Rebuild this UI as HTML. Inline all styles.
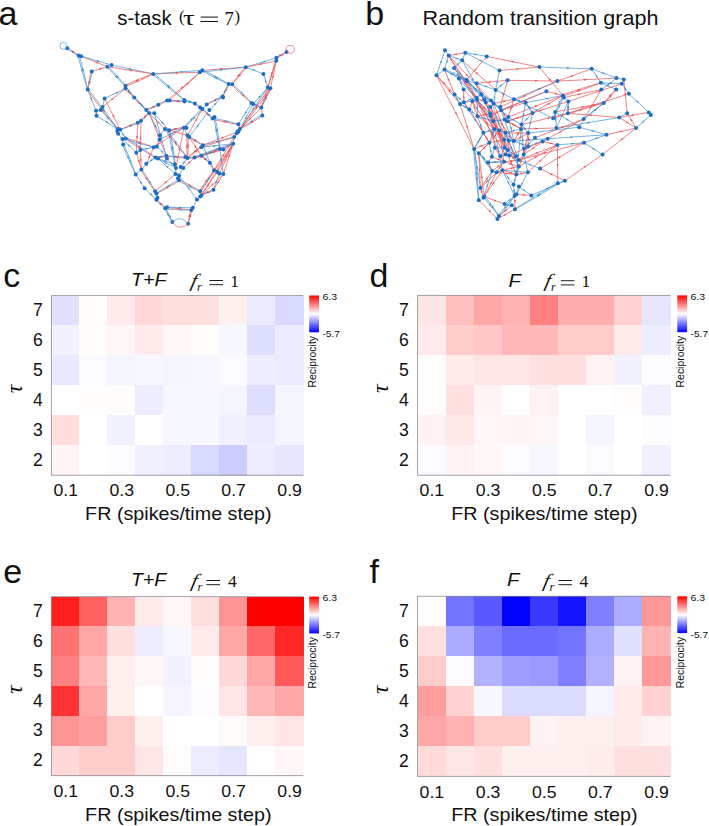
<!DOCTYPE html>
<html><head><meta charset="utf-8"><title>Figure</title>
<style>html,body{margin:0;padding:0;background:#fff}body{width:709px;height:826px;overflow:hidden}svg{display:block}text{fill:#111}</style>
</head><body>
<svg width="709" height="826" viewBox="0 0 709 826">
<rect width="709" height="826" fill="#fff"/>
<defs><linearGradient id="cb" x1="0" y1="0" x2="0" y2="1"><stop offset="0" stop-color="#ff0000"/><stop offset="0.5" stop-color="#ffffff"/><stop offset="1" stop-color="#0000ff"/></linearGradient></defs>
<g stroke-width="0.70" fill="none" stroke-linecap="round"><line x1="67.6" y1="47.8" x2="78.7" y2="55.4" stroke="#ee4d52"/><line x1="67.0" y1="48.8" x2="78.5" y2="55.6" stroke="#3f8fd0"/><line x1="81.1" y1="56.2" x2="107.5" y2="66.7" stroke="#ee4d52"/><line x1="81.1" y1="56.2" x2="111.6" y2="65.0" stroke="#3f8fd0"/><line x1="111.6" y1="65.0" x2="153.2" y2="73.9" stroke="#3f8fd0"/><line x1="107.5" y1="66.7" x2="153.2" y2="73.9" stroke="#ee4d52"/><line x1="153.2" y1="73.9" x2="199.9" y2="72.2" stroke="#ee4d52"/><line x1="153.2" y1="73.9" x2="202.3" y2="70.3" stroke="#3f8fd0"/><line x1="202.3" y1="70.3" x2="245.8" y2="67.2" stroke="#ee4d52"/><line x1="199.9" y1="72.2" x2="245.8" y2="67.2" stroke="#3f8fd0"/><line x1="245.8" y1="67.2" x2="276.5" y2="57.8" stroke="#3f8fd0"/><line x1="245.8" y1="67.2" x2="276.3" y2="60.8" stroke="#ee4d52"/><line x1="276.2" y1="57.3" x2="286.4" y2="51.8" stroke="#3f8fd0"/><line x1="276.8" y1="58.3" x2="286.6" y2="52.0" stroke="#ee4d52"/><path d="M79.2 55.3Q84.2 72.3 87.8 89.6" stroke="#3f8fd0"/><path d="M78.0 55.7Q82.1 72.8 87.6 89.6" stroke="#3f8fd0"/><line x1="91.7" y1="71.4" x2="107.5" y2="66.7" stroke="#ee4d52"/><line x1="92.3" y1="71.5" x2="87.8" y2="89.6" stroke="#3f8fd0"/><line x1="91.1" y1="71.3" x2="87.6" y2="89.6" stroke="#ee4d52"/><line x1="87.7" y1="89.6" x2="96.1" y2="110.7" stroke="#3f8fd0"/><path d="M88.2 89.2Q103.6 108.7 117.8 129.0" stroke="#3f8fd0"/><path d="M87.2 90.0Q101.8 110.0 117.6 129.2" stroke="#ee4d52"/><path d="M107.9 66.3Q117.3 75.5 125.6 85.7" stroke="#3f8fd0"/><path d="M107.1 67.1Q115.7 77.0 125.4 85.9" stroke="#3f8fd0"/><path d="M125.3 85.2Q138.9 78.9 153.2 73.8" stroke="#ee4d52"/><path d="M125.7 86.4Q139.8 80.8 153.2 74.0" stroke="#ee4d52"/><line x1="125.5" y1="88.5" x2="104.6" y2="98.5" stroke="#3f8fd0"/><line x1="125.5" y1="88.5" x2="102.5" y2="106.9" stroke="#ee4d52"/><line x1="104.6" y1="98.5" x2="102.5" y2="106.9" stroke="#3f8fd0"/><line x1="102.5" y1="106.9" x2="100.8" y2="110.1" stroke="#3f8fd0"/><line x1="100.8" y1="110.1" x2="96.1" y2="110.7" stroke="#3f8fd0"/><line x1="96.1" y1="110.7" x2="96.5" y2="115.8" stroke="#3f8fd0"/><line x1="100.8" y1="110.1" x2="117.7" y2="129.1" stroke="#3f8fd0"/><line x1="96.5" y1="115.8" x2="117.7" y2="129.1" stroke="#3f8fd0"/><line x1="104.6" y1="98.5" x2="120.2" y2="129.6" stroke="#ee4d52"/><line x1="125.9" y1="88.1" x2="134.3" y2="97.3" stroke="#3f8fd0"/><line x1="125.1" y1="88.9" x2="134.1" y2="97.5" stroke="#ee4d52"/><line x1="125.5" y1="85.8" x2="134.2" y2="97.4" stroke="#3f8fd0"/><line x1="134.6" y1="97.0" x2="146.4" y2="110.0" stroke="#3f8fd0"/><line x1="133.8" y1="97.8" x2="146.2" y2="110.2" stroke="#ee4d52"/><line x1="134.2" y1="97.4" x2="149.0" y2="112.9" stroke="#3f8fd0"/><line x1="146.1" y1="109.6" x2="158.3" y2="104.7" stroke="#3f8fd0"/><line x1="146.5" y1="110.6" x2="158.3" y2="104.9" stroke="#ee4d52"/><line x1="158.0" y1="104.3" x2="166.9" y2="100.5" stroke="#3f8fd0"/><line x1="158.6" y1="105.3" x2="167.1" y2="100.7" stroke="#ee4d52"/><line x1="149.0" y1="112.9" x2="154.3" y2="113.3" stroke="#3f8fd0"/><line x1="149.4" y1="113.3" x2="141.1" y2="120.8" stroke="#3f8fd0"/><line x1="148.6" y1="112.5" x2="140.9" y2="120.6" stroke="#ee4d52"/><line x1="141.0" y1="120.7" x2="137.8" y2="122.8" stroke="#3f8fd0"/><line x1="138.0" y1="123.4" x2="120.2" y2="129.7" stroke="#3f8fd0"/><line x1="137.6" y1="122.2" x2="120.2" y2="129.5" stroke="#ee4d52"/><line x1="141.0" y1="120.7" x2="140.3" y2="150.1" stroke="#ee4d52"/><line x1="137.8" y1="122.8" x2="136.3" y2="152.8" stroke="#ee4d52"/><line x1="149.0" y1="112.9" x2="164.9" y2="129.1" stroke="#ee4d52"/><line x1="154.3" y1="113.3" x2="169.1" y2="130.2" stroke="#3f8fd0"/><line x1="149.0" y1="112.9" x2="160.0" y2="135.3" stroke="#3f8fd0"/><line x1="164.9" y1="129.1" x2="160.0" y2="135.3" stroke="#3f8fd0"/><line x1="160.0" y1="135.3" x2="159.6" y2="139.5" stroke="#3f8fd0"/><line x1="160.2" y1="139.7" x2="156.9" y2="146.5" stroke="#3f8fd0"/><line x1="159.0" y1="139.3" x2="156.7" y2="146.5" stroke="#ee4d52"/><line x1="117.7" y1="129.1" x2="118.1" y2="133.8" stroke="#3f8fd0"/><line x1="118.1" y1="133.8" x2="122.4" y2="138.9" stroke="#3f8fd0"/><line x1="122.4" y1="138.9" x2="123.2" y2="144.4" stroke="#3f8fd0"/><line x1="120.2" y1="129.6" x2="125.7" y2="138.5" stroke="#3f8fd0"/><path d="M125.9 137.9Q140.0 141.9 153.7 147.2" stroke="#ee4d52"/><path d="M125.5 139.1Q139.4 143.9 153.7 147.4" stroke="#3f8fd0"/><path d="M153.6 73.4Q169.4 86.1 184.4 99.9" stroke="#3f8fd0"/><path d="M152.8 74.4Q168.1 87.8 184.2 100.1" stroke="#3f8fd0"/><line x1="199.9" y1="72.2" x2="167.0" y2="100.6" stroke="#ee4d52"/><line x1="202.3" y1="70.3" x2="169.5" y2="100.6" stroke="#ee4d52"/><line x1="169.5" y1="100.0" x2="184.5" y2="101.4" stroke="#3f8fd0"/><line x1="169.5" y1="101.2" x2="184.5" y2="101.6" stroke="#ee4d52"/><line x1="184.5" y1="99.4" x2="194.9" y2="103.4" stroke="#3f8fd0"/><line x1="184.1" y1="100.6" x2="194.9" y2="103.6" stroke="#3f8fd0"/><line x1="195.3" y1="103.0" x2="200.2" y2="107.5" stroke="#3f8fd0"/><line x1="194.5" y1="104.0" x2="200.0" y2="107.7" stroke="#ee4d52"/><line x1="202.7" y1="108.6" x2="212.7" y2="118.5" stroke="#3f8fd0"/><line x1="201.9" y1="109.4" x2="212.5" y2="118.7" stroke="#ee4d52"/><path d="M212.7 118.0Q225.7 120.4 238.4 124.2" stroke="#3f8fd0"/><path d="M212.5 119.2Q225.3 122.5 238.4 124.4" stroke="#ee4d52"/><path d="M215.1 117.0Q218.2 132.9 219.9 149.0" stroke="#3f8fd0"/><path d="M213.9 117.2Q216.1 133.2 219.7 149.0" stroke="#3f8fd0"/><path d="M202.6 69.8Q216.0 76.2 228.8 84.0" stroke="#3f8fd0"/><path d="M202.0 70.8Q215.0 78.2 228.6 84.2" stroke="#3f8fd0"/><line x1="246.3" y1="67.6" x2="232.2" y2="84.4" stroke="#ee4d52"/><line x1="245.3" y1="66.8" x2="232.0" y2="84.2" stroke="#ee4d52"/><line x1="229.2" y1="84.4" x2="222.7" y2="96.5" stroke="#ee4d52"/><line x1="228.2" y1="83.8" x2="222.5" y2="96.3" stroke="#3f8fd0"/><line x1="222.9" y1="96.9" x2="206.8" y2="104.5" stroke="#ee4d52"/><line x1="222.3" y1="95.9" x2="206.6" y2="104.3" stroke="#3f8fd0"/><line x1="206.7" y1="104.4" x2="202.3" y2="109.0" stroke="#3f8fd0"/><line x1="222.6" y1="96.4" x2="209.4" y2="110.1" stroke="#3f8fd0"/><path d="M232.5 83.9Q242.6 92.9 251.6 103.0" stroke="#3f8fd0"/><path d="M231.7 84.7Q241.0 94.5 251.4 103.2" stroke="#ee4d52"/><line x1="245.8" y1="67.2" x2="263.4" y2="73.9" stroke="#3f8fd0"/><line x1="263.4" y1="73.9" x2="267.8" y2="87.5" stroke="#3f8fd0"/><line x1="276.3" y1="60.8" x2="270.4" y2="88.3" stroke="#ee4d52"/><line x1="276.5" y1="57.8" x2="267.8" y2="87.5" stroke="#ee4d52"/><line x1="270.9" y1="88.6" x2="261.4" y2="107.7" stroke="#3f8fd0"/><line x1="269.9" y1="88.0" x2="261.2" y2="107.5" stroke="#ee4d52"/><line x1="267.8" y1="87.5" x2="253.2" y2="104.0" stroke="#3f8fd0"/><line x1="261.3" y1="107.6" x2="262.3" y2="115.4" stroke="#ee4d52"/><line x1="251.5" y1="103.1" x2="261.3" y2="107.6" stroke="#3f8fd0"/><path d="M262.6 115.9Q251.7 123.2 240.0 129.2" stroke="#ee4d52"/><path d="M262.0 114.9Q250.5 121.3 239.8 129.0" stroke="#3f8fd0"/><line x1="276.3" y1="60.8" x2="261.3" y2="107.6" stroke="#ee4d52"/><line x1="251.5" y1="103.1" x2="238.4" y2="124.3" stroke="#3f8fd0"/><line x1="253.2" y1="104.0" x2="239.9" y2="129.1" stroke="#3f8fd0"/><line x1="238.4" y1="124.3" x2="239.9" y2="129.1" stroke="#3f8fd0"/><line x1="238.4" y1="131.7" x2="234.2" y2="137.0" stroke="#3f8fd0"/><line x1="234.2" y1="137.0" x2="233.1" y2="143.8" stroke="#3f8fd0"/><line x1="261.3" y1="107.6" x2="237.8" y2="131.3" stroke="#ee4d52"/><path d="M202.7 109.4Q193.9 119.1 184.0 127.8" stroke="#3f8fd0"/><path d="M201.9 108.6Q192.3 117.6 183.8 127.6" stroke="#3f8fd0"/><line x1="209.4" y1="110.1" x2="189.2" y2="137.0" stroke="#3f8fd0"/><line x1="202.3" y1="109.0" x2="187.5" y2="135.3" stroke="#ee4d52"/><line x1="183.9" y1="127.7" x2="187.5" y2="135.3" stroke="#3f8fd0"/><line x1="187.5" y1="135.3" x2="189.2" y2="137.0" stroke="#3f8fd0"/><line x1="184.0" y1="128.3" x2="169.1" y2="130.3" stroke="#3f8fd0"/><line x1="183.8" y1="127.1" x2="169.1" y2="130.1" stroke="#ee4d52"/><line x1="164.9" y1="129.1" x2="187.5" y2="135.3" stroke="#ee4d52"/><line x1="159.6" y1="139.5" x2="183.9" y2="127.7" stroke="#3f8fd0"/><line x1="189.5" y1="136.5" x2="203.0" y2="145.1" stroke="#3f8fd0"/><line x1="188.9" y1="137.5" x2="202.8" y2="145.3" stroke="#ee4d52"/><line x1="234.2" y1="137.0" x2="202.9" y2="145.2" stroke="#3f8fd0"/><line x1="233.1" y1="143.8" x2="201.4" y2="147.3" stroke="#3f8fd0"/><line x1="234.2" y1="137.0" x2="201.4" y2="147.3" stroke="#ee4d52"/><line x1="233.1" y1="143.8" x2="223.4" y2="149.5" stroke="#3f8fd0"/><line x1="223.4" y1="149.5" x2="219.8" y2="149.0" stroke="#3f8fd0"/><line x1="220.0" y1="149.6" x2="201.4" y2="155.9" stroke="#3f8fd0"/><line x1="219.6" y1="148.4" x2="201.4" y2="155.7" stroke="#3f8fd0"/><line x1="223.4" y1="149.5" x2="201.4" y2="155.8" stroke="#ee4d52"/><line x1="201.5" y1="156.4" x2="194.5" y2="157.6" stroke="#3f8fd0"/><line x1="201.3" y1="155.2" x2="194.5" y2="157.4" stroke="#ee4d52"/><line x1="194.5" y1="158.1" x2="187.5" y2="158.0" stroke="#3f8fd0"/><line x1="194.5" y1="156.9" x2="187.5" y2="157.8" stroke="#ee4d52"/><line x1="187.4" y1="158.5" x2="166.4" y2="156.1" stroke="#ee4d52"/><line x1="187.6" y1="157.3" x2="166.4" y2="155.9" stroke="#3f8fd0"/><line x1="166.5" y1="156.6" x2="155.4" y2="157.6" stroke="#ee4d52"/><line x1="166.3" y1="155.4" x2="155.4" y2="157.4" stroke="#3f8fd0"/><line x1="201.8" y1="155.3" x2="210.0" y2="162.7" stroke="#3f8fd0"/><line x1="201.0" y1="156.3" x2="209.8" y2="162.9" stroke="#ee4d52"/><line x1="210.4" y1="162.5" x2="214.2" y2="170.1" stroke="#3f8fd0"/><line x1="209.4" y1="163.1" x2="214.0" y2="170.3" stroke="#ee4d52"/><line x1="214.1" y1="170.2" x2="217.3" y2="171.9" stroke="#3f8fd0"/><line x1="217.3" y1="171.9" x2="219.4" y2="173.4" stroke="#3f8fd0"/><line x1="219.4" y1="173.4" x2="223.4" y2="174.0" stroke="#3f8fd0"/><line x1="214.1" y1="170.2" x2="234.2" y2="137.0" stroke="#ee4d52"/><line x1="217.3" y1="171.9" x2="233.1" y2="143.8" stroke="#ee4d52"/><line x1="219.4" y1="173.4" x2="233.1" y2="143.8" stroke="#ee4d52"/><line x1="223.4" y1="174.0" x2="233.1" y2="143.8" stroke="#ee4d52"/><line x1="219.8" y1="149.0" x2="223.4" y2="174.0" stroke="#3f8fd0"/><line x1="213.5" y1="189.7" x2="219.4" y2="173.4" stroke="#3f8fd0"/><line x1="213.5" y1="189.7" x2="223.4" y2="174.0" stroke="#ee4d52"/><path d="M199.6 191.0Q206.2 180.2 214.0 170.1" stroke="#ee4d52"/><path d="M200.6 191.6Q208.0 181.3 214.2 170.3" stroke="#3f8fd0"/><line x1="201.4" y1="195.2" x2="217.3" y2="171.9" stroke="#ee4d52"/><line x1="200.1" y1="191.3" x2="233.1" y2="143.8" stroke="#ee4d52"/><line x1="203.3" y1="145.7" x2="187.6" y2="158.0" stroke="#ee4d52"/><line x1="202.5" y1="144.7" x2="187.4" y2="157.8" stroke="#ee4d52"/><path d="M188.1 135.3Q188.6 146.6 187.6 157.9" stroke="#ee4d52"/><path d="M186.9 135.3Q186.4 146.6 187.4 157.9" stroke="#ee4d52"/><line x1="183.9" y1="127.7" x2="175.9" y2="168.1" stroke="#ee4d52"/><path d="M169.7 130.1Q173.6 149.0 176.0 168.1" stroke="#3f8fd0"/><path d="M168.5 130.3Q171.4 149.3 175.8 168.1" stroke="#3f8fd0"/><line x1="156.8" y1="146.5" x2="166.4" y2="156.0" stroke="#3f8fd0"/><line x1="157.9" y1="158.6" x2="174.8" y2="164.3" stroke="#3f8fd0"/><line x1="155.4" y1="157.5" x2="175.9" y2="168.1" stroke="#3f8fd0"/><line x1="157.9" y1="158.6" x2="175.5" y2="174.0" stroke="#3f8fd0"/><line x1="167.0" y1="158.6" x2="175.9" y2="168.1" stroke="#3f8fd0"/><line x1="174.8" y1="164.3" x2="175.9" y2="168.1" stroke="#3f8fd0"/><line x1="175.9" y1="168.1" x2="175.5" y2="174.0" stroke="#3f8fd0"/><line x1="175.5" y1="174.0" x2="179.0" y2="175.5" stroke="#3f8fd0"/><line x1="179.0" y1="175.5" x2="179.0" y2="180.3" stroke="#3f8fd0"/><line x1="180.7" y1="167.0" x2="183.3" y2="168.1" stroke="#3f8fd0"/><line x1="183.3" y1="168.1" x2="179.0" y2="175.5" stroke="#3f8fd0"/><line x1="194.5" y1="157.5" x2="183.3" y2="168.1" stroke="#ee4d52"/><line x1="187.5" y1="157.9" x2="180.7" y2="167.0" stroke="#3f8fd0"/><path d="M179.3 180.8Q168.2 187.8 156.5 193.6" stroke="#ee4d52"/><path d="M178.7 179.8Q167.2 186.0 156.3 193.4" stroke="#3f8fd0"/><line x1="175.5" y1="174.0" x2="155.1" y2="191.3" stroke="#ee4d52"/><path d="M179.3 179.8Q190.0 184.8 200.2 191.2" stroke="#ee4d52"/><path d="M178.7 180.8Q189.1 186.8 200.0 191.4" stroke="#3f8fd0"/><line x1="179.0" y1="175.5" x2="197.0" y2="199.4" stroke="#3f8fd0"/><path d="M126.0 138.0Q141.1 147.1 155.5 157.4" stroke="#3f8fd0"/><path d="M125.4 139.0Q140.0 148.9 155.3 157.6" stroke="#ee4d52"/><path d="M123.8 144.2Q130.4 159.0 135.8 174.4" stroke="#3f8fd0"/><path d="M122.6 144.6Q128.5 159.8 135.6 174.4" stroke="#3f8fd0"/><line x1="122.4" y1="138.9" x2="136.3" y2="152.8" stroke="#3f8fd0"/><line x1="140.3" y1="150.1" x2="141.4" y2="169.6" stroke="#ee4d52"/><line x1="136.3" y1="152.8" x2="141.4" y2="169.6" stroke="#ee4d52"/><line x1="146.3" y1="163.8" x2="141.4" y2="169.6" stroke="#3f8fd0"/><line x1="141.4" y1="169.6" x2="135.7" y2="174.4" stroke="#3f8fd0"/><line x1="146.3" y1="163.8" x2="153.7" y2="147.3" stroke="#ee4d52"/><path d="M141.9 169.3Q149.2 179.9 155.2 191.2" stroke="#3f8fd0"/><path d="M140.9 169.9Q147.3 181.0 155.0 191.4" stroke="#ee4d52"/><line x1="135.7" y1="174.4" x2="144.6" y2="188.2" stroke="#3f8fd0"/><line x1="144.6" y1="188.2" x2="156.4" y2="199.8" stroke="#3f8fd0"/><line x1="155.1" y1="191.3" x2="157.5" y2="197.7" stroke="#3f8fd0"/><line x1="157.5" y1="197.7" x2="156.4" y2="199.8" stroke="#3f8fd0"/><line x1="156.8" y1="199.4" x2="165.4" y2="208.2" stroke="#ee4d52"/><line x1="156.0" y1="200.2" x2="165.2" y2="208.4" stroke="#3f8fd0"/><path d="M165.3 207.7Q178.4 208.1 191.3 209.9" stroke="#ee4d52"/><path d="M165.3 208.9Q178.2 210.2 191.3 210.1" stroke="#3f8fd0"/><line x1="167.0" y1="207.2" x2="192.8" y2="207.8" stroke="#3f8fd0"/><line x1="165.8" y1="208.0" x2="172.4" y2="221.9" stroke="#3f8fd0"/><line x1="164.8" y1="208.6" x2="172.2" y2="222.1" stroke="#3f8fd0"/><line x1="191.9" y1="210.1" x2="188.2" y2="223.7" stroke="#ee4d52"/><line x1="190.7" y1="209.9" x2="188.0" y2="223.7" stroke="#ee4d52"/><line x1="192.8" y1="207.8" x2="197.0" y2="199.4" stroke="#3f8fd0"/><line x1="197.0" y1="199.4" x2="200.3" y2="196.6" stroke="#3f8fd0"/><line x1="200.3" y1="196.6" x2="201.4" y2="195.2" stroke="#3f8fd0"/><line x1="201.4" y1="195.2" x2="200.1" y2="191.3" stroke="#3f8fd0"/><line x1="213.7" y1="190.2" x2="201.4" y2="195.3" stroke="#ee4d52"/><line x1="213.3" y1="189.2" x2="201.4" y2="195.1" stroke="#3f8fd0"/><line x1="200.3" y1="196.6" x2="223.4" y2="174.0" stroke="#ee4d52"/><line x1="201.4" y1="195.2" x2="233.1" y2="143.8" stroke="#ee4d52"/><line x1="155.4" y1="157.5" x2="146.3" y2="163.8" stroke="#3f8fd0"/><line x1="140.3" y1="150.1" x2="153.7" y2="147.3" stroke="#3f8fd0"/><line x1="136.3" y1="152.8" x2="140.3" y2="150.1" stroke="#3f8fd0"/><line x1="156.8" y1="146.5" x2="153.7" y2="147.3" stroke="#3f8fd0"/><line x1="149.0" y1="112.9" x2="166.4" y2="156.0" stroke="#ee4d52"/><line x1="154.3" y1="113.3" x2="166.4" y2="156.0" stroke="#3f8fd0"/><path d="M165.4 128.7Q177.0 142.8 187.6 157.8" stroke="#3f8fd0"/><path d="M164.4 129.5Q175.4 144.2 187.4 158.0" stroke="#ee4d52"/><line x1="189.2" y1="137.0" x2="201.4" y2="155.8" stroke="#ee4d52"/><path d="M194.3 156.9Q213.4 149.6 233.1 143.7" stroke="#3f8fd0"/><path d="M194.7 158.1Q214.2 151.7 233.1 143.9" stroke="#ee4d52"/><line x1="202.9" y1="145.2" x2="209.9" y2="162.8" stroke="#3f8fd0"/><line x1="153.7" y1="147.3" x2="183.9" y2="127.7" stroke="#ee4d52"/><line x1="238.4" y1="131.7" x2="202.9" y2="145.2" stroke="#ee4d52"/><line x1="169.1" y1="130.2" x2="164.9" y2="129.1" stroke="#3f8fd0"/><line x1="186.5" y1="128.1" x2="183.9" y2="127.7" stroke="#3f8fd0"/><line x1="267.8" y1="87.5" x2="239.9" y2="129.1" stroke="#3f8fd0"/><path d="M270.9 88.7Q255.3 110.6 238.5 131.8" stroke="#ee4d52"/><path d="M269.9 87.9Q253.5 109.4 238.3 131.6" stroke="#ee4d52"/></g><g><polygon points="74.8,52.7 71.7,51.7 72.8,50.2" fill="#ee4d52"/><polygon points="74.6,53.3 71.5,52.5 72.4,50.9" fill="#3f8fd0"/><polygon points="94.8,61.7 98.1,62.0 97.4,63.7" fill="#ee4d52"/><polygon points="100.2,61.7 97.0,61.7 97.5,60.0" fill="#3f8fd0"/><polygon points="132.0,69.4 128.8,69.6 129.2,67.8" fill="#3f8fd0"/><polygon points="128.7,70.0 132.0,69.6 131.7,71.4" fill="#ee4d52"/><polygon points="174.9,73.1 178.0,72.1 178.0,73.9" fill="#ee4d52"/><polygon points="179.3,72.0 182.3,70.9 182.5,72.7" fill="#3f8fd0"/><polygon points="219.0,69.1 222.0,68.0 222.1,69.8" fill="#ee4d52"/><polygon points="218.7,70.1 221.7,68.9 221.9,70.7" fill="#3f8fd0"/><polygon points="262.0,62.2 264.7,60.5 265.3,62.2" fill="#3f8fd0"/><polygon points="258.6,64.5 261.5,63.0 261.9,64.8" fill="#ee4d52"/><polygon points="282.0,54.2 279.7,56.4 278.9,54.8" fill="#3f8fd0"/><polygon points="280.1,56.2 282.3,53.7 283.3,55.2" fill="#ee4d52"/><polygon points="82.4,68.0 84.0,70.8 82.3,71.3" fill="#3f8fd0"/><polygon points="81.5,68.0 83.2,70.7 81.5,71.2" fill="#3f8fd0"/><polygon points="102.4,68.2 99.6,70.0 99.1,68.2" fill="#ee4d52"/><polygon points="89.2,84.0 89.1,80.8 90.8,81.2" fill="#3f8fd0"/><polygon points="89.4,80.0 89.7,83.3 87.9,82.9" fill="#ee4d52"/><polygon points="92.1,100.7 90.1,98.2 91.8,97.5" fill="#3f8fd0"/><polygon points="102.2,108.1 104.8,110.1 103.4,111.2" fill="#3f8fd0"/><polygon points="102.5,109.6 105.1,111.5 103.6,112.6" fill="#ee4d52"/><polygon points="115.9,75.0 118.7,76.7 117.3,78.0" fill="#3f8fd0"/><polygon points="117.9,78.2 115.0,76.6 116.3,75.3" fill="#3f8fd0"/><polygon points="135.2,81.2 137.7,79.1 138.4,80.8" fill="#ee4d52"/><polygon points="135.4,82.0 137.9,79.9 138.6,81.6" fill="#ee4d52"/><polygon points="118.8,91.7 116.4,93.9 115.6,92.2" fill="#3f8fd0"/><polygon points="113.9,97.8 112.1,100.4 110.9,99.0" fill="#ee4d52"/><polygon points="106.4,116.4 109.2,118.1 107.8,119.3" fill="#3f8fd0"/><polygon points="105.2,121.3 108.3,122.1 107.4,123.7" fill="#3f8fd0"/><polygon points="112.4,114.1 114.7,116.5 113.0,117.3" fill="#ee4d52"/><polygon points="128.7,91.2 131.5,92.9 130.1,94.1" fill="#3f8fd0"/><polygon points="130.2,93.8 127.3,92.3 128.5,91.0" fill="#ee4d52"/><polygon points="127.9,88.9 130.5,90.9 129.0,92.0" fill="#3f8fd0"/><polygon points="142.5,105.7 139.7,104.0 141.1,102.8" fill="#3f8fd0"/><polygon points="140.5,104.5 137.6,102.9 138.9,101.6" fill="#ee4d52"/><polygon points="143.7,107.4 140.9,105.7 142.2,104.5" fill="#3f8fd0"/><polygon points="151.5,107.4 154.1,105.4 154.7,107.1" fill="#3f8fd0"/><polygon points="151.8,108.1 154.2,105.9 155.0,107.5" fill="#ee4d52"/><polygon points="146.4,116.0 144.7,118.8 143.5,117.4" fill="#3f8fd0"/><polygon points="146.8,114.4 145.3,117.3 144.0,116.0" fill="#ee4d52"/><polygon points="132.7,125.3 130.1,127.2 129.4,125.5" fill="#3f8fd0"/><polygon points="128.6,126.0 131.1,123.9 131.8,125.6" fill="#ee4d52"/><polygon points="140.6,136.3 141.5,139.4 139.6,139.4" fill="#ee4d52"/><polygon points="137.0,139.1 136.2,136.0 138.0,136.1" fill="#ee4d52"/><polygon points="156.7,120.8 159.5,122.3 158.2,123.6" fill="#ee4d52"/><polygon points="164.0,124.4 161.3,122.7 162.7,121.5" fill="#3f8fd0"/><polygon points="156.3,127.9 154.2,125.5 155.8,124.7" fill="#3f8fd0"/><polygon points="122.1,132.7 124.5,134.8 123.0,135.8" fill="#3f8fd0"/><polygon points="141.7,143.2 138.5,143.1 139.1,141.3" fill="#ee4d52"/><polygon points="137.2,142.5 140.5,142.6 140.0,144.3" fill="#3f8fd0"/><polygon points="166.8,84.8 169.8,86.1 168.6,87.5" fill="#3f8fd0"/><polygon points="167.0,86.0 170.0,87.3 168.8,88.7" fill="#3f8fd0"/><polygon points="180.6,88.9 182.3,86.2 183.5,87.5" fill="#ee4d52"/><polygon points="185.8,85.5 187.5,82.8 188.7,84.1" fill="#ee4d52"/><polygon points="175.1,100.5 178.3,99.9 178.1,101.7" fill="#3f8fd0"/><polygon points="176.5,101.4 179.7,100.6 179.6,102.4" fill="#ee4d52"/><polygon points="191.7,102.1 188.4,101.9 189.1,100.2" fill="#3f8fd0"/><polygon points="191.6,102.7 188.3,102.7 188.8,101.0" fill="#3f8fd0"/><polygon points="207.2,113.1 210.1,114.6 208.8,115.9" fill="#3f8fd0"/><polygon points="205.8,112.9 208.8,114.2 207.6,115.6" fill="#ee4d52"/><polygon points="224.5,120.8 227.7,120.7 227.3,122.4" fill="#3f8fd0"/><polygon points="222.3,121.2 225.6,120.9 225.2,122.7" fill="#ee4d52"/><polygon points="217.4,132.1 216.0,129.1 217.8,128.8" fill="#3f8fd0"/><polygon points="215.9,128.3 217.4,131.2 215.6,131.5" fill="#3f8fd0"/><polygon points="217.1,77.7 213.9,77.0 214.8,75.4" fill="#3f8fd0"/><polygon points="214.6,77.1 217.8,77.7 217.0,79.4" fill="#3f8fd0"/><polygon points="238.5,76.8 239.8,73.8 241.2,75.0" fill="#ee4d52"/><polygon points="237.3,77.4 238.4,74.3 239.9,75.4" fill="#ee4d52"/><polygon points="225.2,91.8 225.9,88.6 227.5,89.5" fill="#ee4d52"/><polygon points="225.6,89.5 225.1,92.8 223.5,92.0" fill="#3f8fd0"/><polygon points="217.3,99.6 214.9,101.7 214.1,100.1" fill="#ee4d52"/><polygon points="213.7,100.5 216.0,98.2 216.9,99.8" fill="#3f8fd0"/><polygon points="216.6,102.6 215.1,105.5 213.8,104.2" fill="#3f8fd0"/><polygon points="243.1,94.5 240.3,93.0 241.6,91.7" fill="#3f8fd0"/><polygon points="241.7,94.1 244.6,95.6 243.4,96.9" fill="#ee4d52"/><polygon points="255.8,71.0 252.6,70.7 253.2,69.0" fill="#3f8fd0"/><polygon points="265.1,79.1 266.9,81.7 265.2,82.3" fill="#3f8fd0"/><polygon points="273.4,74.5 273.6,77.8 271.8,77.4" fill="#ee4d52"/><polygon points="271.4,75.4 271.4,72.1 273.1,72.6" fill="#ee4d52"/><polygon points="266.9,96.6 266.4,99.8 264.7,99.0" fill="#3f8fd0"/><polygon points="265.4,98.1 265.8,94.8 267.5,95.6" fill="#ee4d52"/><polygon points="260.9,95.3 259.5,98.3 258.1,97.1" fill="#3f8fd0"/><polygon points="254.0,104.3 257.2,104.7 256.5,106.4" fill="#3f8fd0"/><polygon points="250.7,122.9 252.9,120.6 253.8,122.1" fill="#ee4d52"/><polygon points="253.1,120.5 251.0,123.0 250.0,121.4" fill="#3f8fd0"/><polygon points="268.9,83.8 268.8,87.1 267.1,86.5" fill="#ee4d52"/><polygon points="244.5,114.4 245.4,111.3 246.9,112.3" fill="#3f8fd0"/><polygon points="246.8,116.0 246.2,119.2 244.6,118.3" fill="#3f8fd0"/><polygon points="248.6,120.4 250.2,117.6 251.4,118.8" fill="#ee4d52"/><polygon points="192.3,119.6 193.9,116.8 195.2,118.1" fill="#3f8fd0"/><polygon points="192.9,118.0 191.4,120.9 190.1,119.7" fill="#3f8fd0"/><polygon points="196.4,127.5 197.5,124.4 199.0,125.5" fill="#3f8fd0"/><polygon points="197.3,117.9 196.5,121.1 195.0,120.2" fill="#ee4d52"/><polygon points="173.3,129.7 176.3,128.4 176.5,130.2" fill="#3f8fd0"/><polygon points="177.5,128.4 174.6,129.9 174.2,128.1" fill="#ee4d52"/><polygon points="172.8,131.3 176.1,131.2 175.6,133.0" fill="#ee4d52"/><polygon points="169.9,134.5 172.4,132.3 173.2,133.9" fill="#3f8fd0"/><polygon points="197.4,141.5 194.3,140.6 195.3,139.1" fill="#3f8fd0"/><polygon points="196.3,141.7 193.2,140.9 194.0,139.3" fill="#ee4d52"/><polygon points="219.1,141.0 216.3,142.6 215.8,140.9" fill="#3f8fd0"/><polygon points="216.3,145.7 213.3,146.9 213.1,145.1" fill="#3f8fd0"/><polygon points="220.9,141.2 218.2,143.0 217.6,141.2" fill="#ee4d52"/><polygon points="230.7,145.2 228.4,147.6 227.5,146.0" fill="#3f8fd0"/><polygon points="212.8,152.0 210.2,153.9 209.6,152.2" fill="#3f8fd0"/><polygon points="207.8,153.1 210.4,151.1 211.0,152.8" fill="#3f8fd0"/><polygon points="211.5,152.9 214.2,151.2 214.7,152.9" fill="#ee4d52"/><polygon points="178.9,157.5 175.7,158.1 175.9,156.3" fill="#ee4d52"/><polygon points="173.2,156.3 176.4,155.6 176.3,157.5" fill="#3f8fd0"/><polygon points="162.5,157.0 159.5,158.2 159.3,156.3" fill="#ee4d52"/><polygon points="158.2,156.9 161.1,155.4 161.4,157.2" fill="#3f8fd0"/><polygon points="207.8,160.7 204.8,159.3 206.0,157.9" fill="#3f8fd0"/><polygon points="206.4,160.3 203.4,159.2 204.5,157.7" fill="#ee4d52"/><polygon points="221.9,157.3 222.7,154.2 224.3,155.1" fill="#ee4d52"/><polygon points="227.1,154.6 226.3,157.7 224.7,156.8" fill="#ee4d52"/><polygon points="224.6,162.1 225.1,158.9 226.7,159.7" fill="#ee4d52"/><polygon points="228.6,157.7 228.7,154.5 230.4,155.0" fill="#ee4d52"/><polygon points="221.1,157.8 222.4,160.8 220.6,161.0" fill="#3f8fd0"/><polygon points="216.8,180.5 216.6,183.7 214.9,183.1" fill="#3f8fd0"/><polygon points="219.5,180.2 218.6,183.3 217.1,182.3" fill="#ee4d52"/><polygon points="207.8,179.1 206.8,182.2 205.3,181.1" fill="#ee4d52"/><polygon points="207.7,180.4 208.6,177.3 210.2,178.3" fill="#3f8fd0"/><polygon points="209.2,183.7 208.2,186.8 206.7,185.8" fill="#ee4d52"/><polygon points="214.8,170.1 213.8,173.2 212.3,172.1" fill="#ee4d52"/><polygon points="198.0,149.8 196.1,152.4 195.0,151.0" fill="#ee4d52"/><polygon points="193.5,152.5 195.3,149.8 196.5,151.2" fill="#ee4d52"/><polygon points="187.8,147.7 187.0,144.5 188.8,144.6" fill="#ee4d52"/><polygon points="187.2,149.2 186.2,146.1 188.0,146.0" fill="#ee4d52"/><polygon points="180.0,147.2 180.3,150.4 178.5,150.0" fill="#ee4d52"/><polygon points="172.9,149.7 171.5,146.7 173.3,146.4" fill="#3f8fd0"/><polygon points="172.6,151.5 171.1,148.6 172.9,148.3" fill="#3f8fd0"/><polygon points="160.5,150.1 163.3,151.7 162.1,153.0" fill="#3f8fd0"/><polygon points="167.1,161.7 163.8,161.6 164.4,159.8" fill="#3f8fd0"/><polygon points="167.8,163.9 164.6,163.3 165.4,161.7" fill="#3f8fd0"/><polygon points="165.7,165.4 168.6,166.8 167.4,168.2" fill="#3f8fd0"/><polygon points="169.9,161.7 172.7,163.4 171.4,164.6" fill="#3f8fd0"/><polygon points="187.8,163.8 189.4,161.0 190.7,162.4" fill="#ee4d52"/><polygon points="182.7,164.3 183.8,161.3 185.3,162.4" fill="#3f8fd0"/><polygon points="165.3,188.6 167.6,186.3 168.5,187.9" fill="#ee4d52"/><polygon points="167.0,186.9 169.2,184.5 170.2,186.0" fill="#3f8fd0"/><polygon points="167.5,180.7 165.8,183.5 164.6,182.1" fill="#ee4d52"/><polygon points="191.1,186.2 187.9,185.5 188.8,183.9" fill="#ee4d52"/><polygon points="192.7,187.8 189.5,187.2 190.3,185.6" fill="#3f8fd0"/><polygon points="187.3,186.5 189.9,188.5 188.5,189.6" fill="#3f8fd0"/><polygon points="137.4,145.5 140.5,146.5 139.5,148.0" fill="#3f8fd0"/><polygon points="141.8,149.2 138.6,148.3 139.6,146.8" fill="#ee4d52"/><polygon points="131.2,162.9 129.2,160.4 130.9,159.7" fill="#3f8fd0"/><polygon points="127.4,155.5 129.4,158.0 127.8,158.7" fill="#3f8fd0"/><polygon points="127.5,144.0 130.4,145.6 129.1,146.9" fill="#3f8fd0"/><polygon points="140.7,157.7 141.8,160.8 140.0,160.9" fill="#ee4d52"/><polygon points="139.5,163.3 137.7,160.6 139.5,160.1" fill="#ee4d52"/><polygon points="150.2,155.0 149.8,158.2 148.1,157.5" fill="#ee4d52"/><polygon points="148.8,180.6 151.2,182.8 149.6,183.8" fill="#3f8fd0"/><polygon points="147.9,180.5 145.4,178.4 146.9,177.4" fill="#ee4d52"/><polygon points="139.7,180.6 142.1,182.7 140.6,183.7" fill="#3f8fd0"/><polygon points="152.7,196.1 149.8,194.6 151.1,193.3" fill="#3f8fd0"/><polygon points="163.0,205.8 160.2,204.2 161.5,202.9" fill="#ee4d52"/><polygon points="158.6,202.5 161.5,203.9 160.3,205.3" fill="#3f8fd0"/><polygon points="176.0,208.6 179.2,208.0 179.1,209.8" fill="#ee4d52"/><polygon points="178.8,209.5 181.9,208.8 181.9,210.6" fill="#3f8fd0"/><polygon points="177.9,207.5 181.1,206.6 181.0,208.4" fill="#3f8fd0"/><polygon points="168.8,214.4 171.0,216.8 169.3,217.6" fill="#3f8fd0"/><polygon points="166.9,212.5 169.2,214.8 167.6,215.6" fill="#3f8fd0"/><polygon points="189.7,218.3 189.6,215.0 191.4,215.5" fill="#ee4d52"/><polygon points="189.9,214.0 190.2,217.2 188.4,216.9" fill="#ee4d52"/><polygon points="206.6,193.2 209.2,191.1 209.9,192.8" fill="#ee4d52"/><polygon points="205.3,193.1 207.7,190.9 208.5,192.5" fill="#3f8fd0"/><polygon points="211.0,186.1 212.6,183.3 213.8,184.6" fill="#ee4d52"/><polygon points="217.6,168.9 216.7,172.1 215.2,171.1" fill="#ee4d52"/><polygon points="149.4,161.6 151.5,159.1 152.5,160.6" fill="#3f8fd0"/><polygon points="148.9,148.3 146.0,149.8 145.6,148.1" fill="#3f8fd0"/><polygon points="157.3,133.4 159.3,136.0 157.6,136.7" fill="#ee4d52"/><polygon points="160.7,135.7 162.4,138.5 160.6,139.0" fill="#3f8fd0"/><polygon points="174.2,140.3 176.8,142.2 175.4,143.3" fill="#3f8fd0"/><polygon points="174.6,142.1 177.3,144.0 175.9,145.1" fill="#ee4d52"/><polygon points="196.7,148.5 194.2,146.4 195.7,145.4" fill="#ee4d52"/><polygon points="214.6,150.0 217.3,148.1 217.8,149.8" fill="#3f8fd0"/><polygon points="217.6,149.6 215.0,151.6 214.4,149.9" fill="#ee4d52"/><polygon points="205.7,152.2 207.7,154.7 206.0,155.4" fill="#3f8fd0"/><polygon points="171.7,135.6 169.6,138.1 168.6,136.5" fill="#ee4d52"/><polygon points="220.5,138.5 223.1,136.5 223.8,138.2" fill="#ee4d52"/><polygon points="252.3,110.6 253.3,107.5 254.8,108.5" fill="#3f8fd0"/><polygon points="255.3,109.4 256.4,106.4 257.9,107.5" fill="#ee4d52"/><polygon points="258.1,104.3 257.0,107.3 255.5,106.3" fill="#ee4d52"/></g><g fill="#1e6fc4"><circle cx="67.3" cy="48.3" r="2.00"/><circle cx="78.6" cy="55.5" r="2.00"/><circle cx="81.1" cy="56.2" r="2.00"/><circle cx="91.7" cy="71.4" r="2.00"/><circle cx="107.5" cy="66.7" r="2.00"/><circle cx="111.6" cy="65.0" r="2.00"/><circle cx="87.7" cy="89.6" r="2.00"/><circle cx="125.5" cy="85.8" r="2.00"/><circle cx="125.5" cy="88.5" r="2.00"/><circle cx="153.2" cy="73.9" r="2.00"/><circle cx="199.9" cy="72.2" r="2.00"/><circle cx="202.3" cy="70.3" r="2.00"/><circle cx="104.6" cy="98.5" r="2.00"/><circle cx="134.2" cy="97.4" r="2.00"/><circle cx="102.5" cy="106.9" r="2.00"/><circle cx="100.8" cy="110.1" r="2.00"/><circle cx="96.1" cy="110.7" r="2.00"/><circle cx="96.5" cy="115.8" r="2.00"/><circle cx="146.3" cy="110.1" r="2.00"/><circle cx="149.0" cy="112.9" r="2.00"/><circle cx="154.3" cy="113.3" r="2.00"/><circle cx="158.3" cy="104.8" r="2.00"/><circle cx="167.0" cy="100.6" r="2.00"/><circle cx="169.5" cy="100.6" r="2.00"/><circle cx="184.3" cy="100.0" r="2.00"/><circle cx="184.5" cy="101.5" r="2.00"/><circle cx="194.9" cy="103.5" r="2.00"/><circle cx="141.0" cy="120.7" r="2.00"/><circle cx="137.8" cy="122.8" r="2.00"/><circle cx="117.7" cy="129.1" r="2.00"/><circle cx="120.2" cy="129.6" r="2.00"/><circle cx="164.9" cy="129.1" r="2.00"/><circle cx="169.1" cy="130.2" r="2.00"/><circle cx="183.9" cy="127.7" r="2.00"/><circle cx="186.5" cy="128.1" r="2.00"/><circle cx="286.5" cy="51.9" r="2.00"/><circle cx="276.5" cy="57.8" r="2.00"/><circle cx="276.3" cy="60.8" r="2.00"/><circle cx="245.8" cy="67.2" r="2.00"/><circle cx="263.4" cy="73.9" r="2.00"/><circle cx="228.7" cy="84.1" r="2.00"/><circle cx="232.1" cy="84.3" r="2.00"/><circle cx="267.8" cy="87.5" r="2.00"/><circle cx="270.4" cy="88.3" r="2.00"/><circle cx="222.6" cy="96.4" r="2.00"/><circle cx="223.0" cy="97.6" r="2.00"/><circle cx="251.5" cy="103.1" r="2.00"/><circle cx="253.2" cy="104.0" r="2.00"/><circle cx="261.3" cy="107.6" r="2.00"/><circle cx="262.3" cy="115.4" r="2.00"/><circle cx="206.7" cy="104.4" r="2.00"/><circle cx="200.1" cy="107.6" r="2.00"/><circle cx="202.3" cy="109.0" r="2.00"/><circle cx="209.4" cy="110.1" r="2.00"/><circle cx="212.6" cy="118.6" r="2.00"/><circle cx="214.5" cy="117.1" r="2.00"/><circle cx="238.4" cy="124.3" r="2.00"/><circle cx="239.9" cy="129.1" r="2.00"/><circle cx="237.8" cy="131.3" r="2.00"/><circle cx="117.3" cy="131.1" r="2.00"/><circle cx="118.1" cy="133.8" r="2.00"/><circle cx="122.4" cy="138.9" r="2.00"/><circle cx="125.7" cy="138.5" r="2.00"/><circle cx="123.2" cy="144.4" r="2.00"/><circle cx="136.3" cy="152.8" r="2.00"/><circle cx="140.3" cy="150.1" r="2.00"/><circle cx="153.7" cy="147.3" r="2.00"/><circle cx="156.8" cy="146.5" r="2.00"/><circle cx="160.0" cy="135.3" r="2.00"/><circle cx="159.6" cy="139.5" r="2.00"/><circle cx="187.5" cy="135.3" r="2.00"/><circle cx="189.2" cy="137.0" r="2.00"/><circle cx="155.4" cy="157.5" r="2.00"/><circle cx="157.9" cy="158.6" r="2.00"/><circle cx="166.4" cy="156.0" r="2.00"/><circle cx="167.0" cy="158.6" r="2.00"/><circle cx="185.4" cy="157.1" r="2.00"/><circle cx="187.5" cy="157.9" r="2.00"/><circle cx="194.5" cy="157.5" r="2.00"/><circle cx="146.3" cy="163.8" r="2.00"/><circle cx="141.4" cy="169.6" r="2.00"/><circle cx="135.7" cy="174.4" r="2.00"/><circle cx="174.8" cy="164.3" r="2.00"/><circle cx="175.9" cy="168.1" r="2.00"/><circle cx="180.7" cy="167.0" r="2.00"/><circle cx="183.3" cy="168.1" r="2.00"/><circle cx="175.5" cy="174.0" r="2.00"/><circle cx="179.0" cy="175.5" r="2.00"/><circle cx="178.0" cy="178.2" r="2.00"/><circle cx="179.0" cy="180.3" r="2.00"/><circle cx="144.6" cy="188.2" r="2.00"/><circle cx="155.1" cy="191.3" r="2.00"/><circle cx="156.4" cy="193.5" r="2.00"/><circle cx="157.5" cy="197.7" r="2.00"/><circle cx="156.4" cy="199.8" r="2.00"/><circle cx="165.3" cy="208.3" r="2.00"/><circle cx="167.0" cy="207.2" r="2.00"/><circle cx="191.3" cy="210.0" r="2.00"/><circle cx="192.8" cy="207.8" r="2.00"/><circle cx="197.0" cy="199.4" r="2.00"/><circle cx="172.3" cy="222.0" r="2.00"/><circle cx="188.1" cy="223.7" r="2.00"/><circle cx="238.4" cy="131.7" r="2.00"/><circle cx="236.7" cy="133.2" r="2.00"/><circle cx="234.2" cy="137.0" r="2.00"/><circle cx="233.1" cy="143.8" r="2.00"/><circle cx="219.8" cy="149.0" r="2.00"/><circle cx="223.4" cy="149.5" r="2.00"/><circle cx="202.9" cy="145.2" r="2.00"/><circle cx="201.4" cy="147.3" r="2.00"/><circle cx="201.4" cy="155.8" r="2.00"/><circle cx="209.9" cy="162.8" r="2.00"/><circle cx="214.1" cy="170.2" r="2.00"/><circle cx="217.3" cy="171.9" r="2.00"/><circle cx="219.4" cy="173.4" r="2.00"/><circle cx="223.4" cy="174.0" r="2.00"/><circle cx="213.5" cy="189.7" r="2.00"/><circle cx="200.1" cy="191.3" r="2.00"/><circle cx="201.4" cy="195.2" r="2.00"/><circle cx="200.3" cy="196.6" r="2.00"/></g><ellipse cx="63.5" cy="45.9" rx="3.6" ry="3.5" fill="none" stroke="#3f8fd0" stroke-width="0.65"/><ellipse cx="290.2" cy="49.3" rx="4.2" ry="4" fill="none" stroke="#ee4d52" stroke-width="0.65"/><path d="M172.4 221.9 Q180 214.5 188.3 223.8" fill="none" stroke="#3f8fd0" stroke-width="0.65"/><path d="M172.4 221.9 Q178 231.5 188.3 223.8" fill="none" stroke="#ee4d52" stroke-width="0.65"/>
<g stroke-width="0.70" fill="none" stroke-linecap="round"><line x1="445.0" y1="50.2" x2="436.5" y2="75.2" stroke="#3f8fd0"/><line x1="445.0" y1="50.2" x2="448.7" y2="55.6" stroke="#3f8fd0"/><line x1="448.7" y1="55.6" x2="465.3" y2="52.7" stroke="#ee4d52"/><line x1="448.7" y1="55.6" x2="444.5" y2="69.6" stroke="#3f8fd0"/><line x1="444.5" y1="69.6" x2="436.5" y2="75.2" stroke="#3f8fd0"/><line x1="465.3" y1="52.7" x2="486.8" y2="56.4" stroke="#3f8fd0"/><line x1="465.3" y1="52.7" x2="462.2" y2="60.3" stroke="#3f8fd0"/><line x1="462.2" y1="60.3" x2="454.1" y2="67.9" stroke="#3f8fd0"/><line x1="448.7" y1="55.6" x2="462.2" y2="60.3" stroke="#3f8fd0"/><line x1="465.3" y1="52.7" x2="499.5" y2="70.5" stroke="#3f8fd0"/><line x1="486.8" y1="56.4" x2="539.3" y2="67.1" stroke="#ee4d52"/><line x1="499.5" y1="70.5" x2="539.3" y2="67.1" stroke="#ee4d52"/><line x1="486.8" y1="56.4" x2="466.5" y2="79.8" stroke="#ee4d52"/><line x1="499.5" y1="70.5" x2="495.6" y2="89.9" stroke="#3f8fd0"/><line x1="507.6" y1="80.3" x2="495.6" y2="89.9" stroke="#3f8fd0"/><line x1="507.6" y1="80.3" x2="476.6" y2="83.2" stroke="#ee4d52"/><line x1="507.6" y1="80.3" x2="557.4" y2="81.1" stroke="#ee4d52"/><line x1="462.2" y1="60.3" x2="495.6" y2="89.9" stroke="#ee4d52"/><line x1="448.7" y1="55.6" x2="491.0" y2="100.6" stroke="#ee4d52"/><line x1="448.7" y1="55.6" x2="476.6" y2="97.9" stroke="#ee4d52"/><line x1="444.5" y1="69.6" x2="458.9" y2="78.6" stroke="#3f8fd0"/><path d="M444.8 69.1Q456.0 73.7 466.6 79.7" stroke="#3f8fd0"/><path d="M444.2 70.1Q455.0 75.7 466.4 79.9" stroke="#3f8fd0"/><line x1="436.5" y1="75.2" x2="460.0" y2="104.0" stroke="#ee4d52"/><line x1="436.5" y1="75.2" x2="454.6" y2="94.5" stroke="#ee4d52"/><line x1="444.5" y1="69.6" x2="454.6" y2="94.5" stroke="#ee4d52"/><line x1="436.5" y1="75.2" x2="474.1" y2="149.0" stroke="#ee4d52"/><line x1="458.9" y1="78.6" x2="466.5" y2="79.8" stroke="#3f8fd0"/><line x1="467.0" y1="81.1" x2="476.6" y2="83.2" stroke="#3f8fd0"/><line x1="467.0" y1="81.1" x2="481.4" y2="94.5" stroke="#3f8fd0"/><path d="M467.4 80.7Q476.4 89.4 484.3 99.1" stroke="#3f8fd0"/><path d="M466.6 81.5Q474.8 90.9 484.1 99.3" stroke="#3f8fd0"/><line x1="476.6" y1="83.2" x2="495.6" y2="89.9" stroke="#3f8fd0"/><line x1="463.6" y1="89.4" x2="463.9" y2="102.3" stroke="#ee4d52"/><line x1="463.6" y1="89.4" x2="458.9" y2="78.6" stroke="#3f8fd0"/><line x1="454.6" y1="94.5" x2="460.0" y2="104.0" stroke="#3f8fd0"/><line x1="454.6" y1="94.5" x2="463.9" y2="102.3" stroke="#3f8fd0"/><line x1="460.0" y1="104.0" x2="469.3" y2="109.4" stroke="#3f8fd0"/><line x1="463.9" y1="102.3" x2="472.4" y2="101.3" stroke="#ee4d52"/><line x1="472.4" y1="101.3" x2="476.6" y2="97.9" stroke="#3f8fd0"/><line x1="481.4" y1="94.5" x2="484.2" y2="99.2" stroke="#3f8fd0"/><line x1="484.2" y1="99.2" x2="491.0" y2="100.6" stroke="#3f8fd0"/><line x1="493.6" y1="103.5" x2="490.2" y2="106.9" stroke="#3f8fd0"/><line x1="495.6" y1="89.9" x2="513.9" y2="99.2" stroke="#3f8fd0"/><line x1="495.6" y1="89.9" x2="493.6" y2="103.5" stroke="#3f8fd0"/><line x1="507.6" y1="80.3" x2="500.3" y2="106.9" stroke="#ee4d52"/><line x1="513.9" y1="99.2" x2="525.7" y2="102.6" stroke="#3f8fd0"/><line x1="454.1" y1="67.9" x2="466.5" y2="79.8" stroke="#3f8fd0"/><line x1="454.1" y1="67.9" x2="477.1" y2="100.1" stroke="#ee4d52"/><line x1="539.3" y1="67.1" x2="591.6" y2="68.8" stroke="#3f8fd0"/><line x1="539.3" y1="67.1" x2="562.9" y2="95.5" stroke="#ee4d52"/><line x1="591.6" y1="68.8" x2="557.4" y2="81.1" stroke="#ee4d52"/><line x1="557.4" y1="81.1" x2="616.5" y2="78.1" stroke="#ee4d52"/><line x1="557.4" y1="81.1" x2="513.9" y2="99.2" stroke="#3f8fd0"/><line x1="546.4" y1="91.3" x2="562.9" y2="95.5" stroke="#ee4d52"/><line x1="546.4" y1="91.3" x2="501.2" y2="110.2" stroke="#3f8fd0"/><line x1="562.9" y1="95.5" x2="525.7" y2="102.6" stroke="#3f8fd0"/><path d="M562.7 94.9Q581.6 88.1 600.9 82.7" stroke="#ee4d52"/><path d="M563.1 96.1Q582.2 90.2 600.9 82.9" stroke="#ee4d52"/><line x1="563.7" y1="97.5" x2="601.4" y2="89.6" stroke="#ee4d52"/><line x1="562.9" y1="95.5" x2="568.3" y2="101.4" stroke="#3f8fd0"/><line x1="568.3" y1="101.4" x2="567.9" y2="113.3" stroke="#3f8fd0"/><line x1="562.9" y1="95.5" x2="555.2" y2="111.9" stroke="#3f8fd0"/><line x1="563.7" y1="97.5" x2="553.2" y2="118.2" stroke="#3f8fd0"/><line x1="562.9" y1="95.5" x2="532.5" y2="113.1" stroke="#ee4d52"/><line x1="513.9" y1="99.2" x2="553.2" y2="118.2" stroke="#3f8fd0"/><line x1="525.7" y1="102.6" x2="532.5" y2="113.1" stroke="#3f8fd0"/><line x1="568.3" y1="101.4" x2="621.8" y2="83.7" stroke="#ee4d52"/><line x1="567.9" y1="113.3" x2="628.9" y2="93.8" stroke="#ee4d52"/><line x1="567.9" y1="113.3" x2="619.2" y2="117.5" stroke="#ee4d52"/><line x1="591.6" y1="68.8" x2="616.5" y2="78.1" stroke="#3f8fd0"/><line x1="616.5" y1="78.1" x2="623.8" y2="79.4" stroke="#3f8fd0"/><line x1="591.6" y1="68.8" x2="600.9" y2="82.8" stroke="#3f8fd0"/><line x1="600.9" y1="82.8" x2="621.8" y2="83.7" stroke="#3f8fd0"/><line x1="600.9" y1="82.8" x2="616.2" y2="89.4" stroke="#3f8fd0"/><line x1="616.5" y1="78.1" x2="601.4" y2="89.6" stroke="#3f8fd0"/><line x1="623.8" y1="79.4" x2="621.8" y2="83.7" stroke="#3f8fd0"/><line x1="621.8" y1="83.7" x2="628.9" y2="93.8" stroke="#3f8fd0"/><line x1="623.8" y1="79.4" x2="627.2" y2="113.3" stroke="#ee4d52"/><line x1="628.9" y1="93.8" x2="648.8" y2="112.4" stroke="#3f8fd0"/><line x1="601.4" y1="89.6" x2="583.7" y2="119.0" stroke="#ee4d52"/><line x1="616.6" y1="89.8" x2="603.9" y2="103.2" stroke="#ee4d52"/><line x1="615.8" y1="89.0" x2="603.7" y2="103.0" stroke="#ee4d52"/><line x1="603.8" y1="103.1" x2="583.7" y2="119.0" stroke="#3f8fd0"/><line x1="603.8" y1="103.1" x2="555.2" y2="111.9" stroke="#ee4d52"/><line x1="627.2" y1="113.3" x2="619.2" y2="117.5" stroke="#3f8fd0"/><line x1="648.8" y1="112.4" x2="619.2" y2="117.5" stroke="#ee4d52"/><line x1="627.2" y1="113.3" x2="636.1" y2="128.0" stroke="#ee4d52"/><line x1="619.2" y1="117.5" x2="636.1" y2="128.0" stroke="#ee4d52"/><line x1="650.9" y1="115.0" x2="636.1" y2="128.0" stroke="#3f8fd0"/><line x1="619.2" y1="117.5" x2="556.4" y2="128.0" stroke="#3f8fd0"/><line x1="648.8" y1="112.4" x2="650.9" y2="115.0" stroke="#3f8fd0"/><line x1="603.8" y1="103.1" x2="553.2" y2="118.2" stroke="#ee4d52"/><line x1="583.7" y1="119.0" x2="603.8" y2="103.1" stroke="#3f8fd0"/><line x1="583.7" y1="119.0" x2="579.3" y2="127.2" stroke="#3f8fd0"/><line x1="579.3" y1="127.2" x2="606.5" y2="134.8" stroke="#3f8fd0"/><line x1="579.3" y1="127.2" x2="555.2" y2="111.9" stroke="#3f8fd0"/><line x1="584.0" y1="142.7" x2="602.6" y2="154.5" stroke="#3f8fd0"/><line x1="584.0" y1="142.7" x2="606.5" y2="134.8" stroke="#3f8fd0"/><line x1="584.0" y1="142.7" x2="557.4" y2="144.9" stroke="#3f8fd0"/><line x1="557.4" y1="144.9" x2="557.8" y2="183.3" stroke="#ee4d52"/><line x1="557.4" y1="144.9" x2="542.6" y2="141.5" stroke="#ee4d52"/><line x1="584.0" y1="142.7" x2="540.1" y2="168.6" stroke="#ee4d52"/><line x1="602.6" y1="154.5" x2="564.9" y2="180.8" stroke="#ee4d52"/><line x1="636.1" y1="128.0" x2="602.6" y2="154.5" stroke="#ee4d52"/><line x1="636.1" y1="128.0" x2="606.5" y2="134.8" stroke="#ee4d52"/><line x1="583.7" y1="119.0" x2="542.6" y2="141.5" stroke="#ee4d52"/><line x1="556.4" y1="128.0" x2="555.2" y2="111.9" stroke="#3f8fd0"/><line x1="556.4" y1="128.0" x2="568.3" y2="101.4" stroke="#3f8fd0"/><line x1="556.4" y1="128.0" x2="521.1" y2="128.9" stroke="#ee4d52"/><line x1="567.9" y1="113.3" x2="568.3" y2="101.4" stroke="#3f8fd0"/><line x1="553.2" y1="118.2" x2="555.2" y2="111.9" stroke="#3f8fd0"/><line x1="532.5" y1="113.1" x2="525.7" y2="102.6" stroke="#3f8fd0"/><line x1="540.1" y1="168.6" x2="564.9" y2="180.8" stroke="#ee4d52"/><line x1="557.8" y1="183.3" x2="564.9" y2="180.8" stroke="#3f8fd0"/><path d="M558.1 183.8Q537.0 197.2 515.1 209.3" stroke="#3f8fd0"/><path d="M557.5 182.8Q535.8 195.3 514.9 209.1" stroke="#3f8fd0"/><line x1="564.9" y1="180.8" x2="531.3" y2="195.5" stroke="#3f8fd0"/><line x1="579.3" y1="127.2" x2="528.2" y2="133.1" stroke="#3f8fd0"/><line x1="606.5" y1="134.8" x2="547.6" y2="138.7" stroke="#3f8fd0"/><line x1="583.7" y1="119.0" x2="535.0" y2="137.8" stroke="#ee4d52"/><line x1="527.9" y1="172.3" x2="557.4" y2="144.9" stroke="#ee4d52"/><line x1="518.9" y1="166.4" x2="557.4" y2="144.9" stroke="#ee4d52"/><line x1="518.6" y1="160.1" x2="584.0" y2="142.7" stroke="#ee4d52"/><line x1="540.1" y1="168.6" x2="518.6" y2="160.1" stroke="#3f8fd0"/><path d="M474.7 148.9Q477.5 174.5 478.9 200.2" stroke="#3f8fd0"/><path d="M473.5 149.1Q475.4 174.7 478.7 200.2" stroke="#3f8fd0"/><line x1="474.1" y1="149.0" x2="480.5" y2="188.1" stroke="#3f8fd0"/><line x1="478.8" y1="153.2" x2="480.5" y2="188.1" stroke="#ee4d52"/><line x1="478.8" y1="153.2" x2="484.2" y2="196.5" stroke="#ee4d52"/><line x1="480.5" y1="188.1" x2="483.4" y2="197.7" stroke="#ee4d52"/><line x1="478.8" y1="200.2" x2="497.4" y2="218.9" stroke="#ee4d52"/><path d="M484.7 196.1Q492.5 205.6 499.1 215.9" stroke="#3f8fd0"/><path d="M483.7 196.9Q490.7 206.9 498.9 216.1" stroke="#3f8fd0"/><line x1="484.2" y1="196.5" x2="504.6" y2="204.1" stroke="#ee4d52"/><line x1="504.6" y1="204.1" x2="511.8" y2="205.3" stroke="#3f8fd0"/><line x1="504.6" y1="204.1" x2="514.7" y2="195.7" stroke="#3f8fd0"/><line x1="497.4" y1="218.9" x2="515.0" y2="209.2" stroke="#ee4d52"/><line x1="499.0" y1="216.0" x2="511.8" y2="205.3" stroke="#ee4d52"/><path d="M498.5 215.6Q506.0 205.2 514.6 195.6" stroke="#3f8fd0"/><path d="M499.5 216.4Q507.7 206.5 514.8 195.8" stroke="#3f8fd0"/><line x1="515.0" y1="209.2" x2="514.7" y2="195.7" stroke="#ee4d52"/><line x1="516.4" y1="194.3" x2="531.3" y2="195.5" stroke="#ee4d52"/><line x1="531.3" y1="195.5" x2="518.9" y2="186.4" stroke="#3f8fd0"/><line x1="514.7" y1="195.7" x2="513.5" y2="184.5" stroke="#3f8fd0"/><line x1="516.4" y1="194.3" x2="518.9" y2="186.4" stroke="#3f8fd0"/><line x1="516.4" y1="194.3" x2="527.9" y2="172.3" stroke="#3f8fd0"/><line x1="513.5" y1="184.5" x2="516.4" y2="174.5" stroke="#3f8fd0"/><line x1="516.4" y1="174.5" x2="518.9" y2="166.4" stroke="#3f8fd0"/><line x1="480.5" y1="188.1" x2="492.2" y2="171.1" stroke="#ee4d52"/><line x1="480.5" y1="188.1" x2="496.6" y2="172.3" stroke="#ee4d52"/><line x1="484.2" y1="196.5" x2="496.6" y2="172.3" stroke="#ee4d52"/><line x1="484.2" y1="196.5" x2="502.4" y2="170.3" stroke="#ee4d52"/><line x1="483.4" y1="197.7" x2="492.2" y2="171.1" stroke="#3f8fd0"/><line x1="502.4" y1="170.3" x2="513.5" y2="184.5" stroke="#3f8fd0"/><line x1="502.4" y1="170.3" x2="514.7" y2="195.7" stroke="#3f8fd0"/><line x1="492.2" y1="171.1" x2="496.6" y2="172.3" stroke="#3f8fd0"/><line x1="496.6" y1="172.3" x2="502.4" y2="170.3" stroke="#3f8fd0"/><line x1="502.4" y1="170.3" x2="527.9" y2="172.3" stroke="#3f8fd0"/><line x1="488.1" y1="162.5" x2="478.8" y2="153.2" stroke="#3f8fd0"/><line x1="488.1" y1="162.5" x2="492.2" y2="171.1" stroke="#3f8fd0"/><line x1="488.1" y1="162.5" x2="504.0" y2="161.8" stroke="#3f8fd0"/><line x1="478.8" y1="153.2" x2="474.1" y2="149.0" stroke="#3f8fd0"/><line x1="460.0" y1="104.0" x2="474.1" y2="149.0" stroke="#ee4d52"/><line x1="463.9" y1="102.3" x2="483.4" y2="132.8" stroke="#3f8fd0"/><line x1="469.3" y1="109.4" x2="489.3" y2="142.7" stroke="#ee4d52"/><line x1="469.3" y1="109.4" x2="477.5" y2="116.2" stroke="#3f8fd0"/><line x1="477.5" y1="116.2" x2="483.4" y2="132.8" stroke="#3f8fd0"/><line x1="483.4" y1="132.8" x2="489.3" y2="142.7" stroke="#ee4d52"/><line x1="489.3" y1="142.7" x2="478.8" y2="153.2" stroke="#ee4d52"/><line x1="489.3" y1="142.7" x2="491.9" y2="156.7" stroke="#3f8fd0"/><line x1="483.4" y1="132.8" x2="474.1" y2="149.0" stroke="#3f8fd0"/><line x1="490.7" y1="115.8" x2="494.9" y2="147.8" stroke="#3f8fd0"/><line x1="493.2" y1="121.2" x2="504.6" y2="147.8" stroke="#ee4d52"/><line x1="501.2" y1="110.2" x2="518.6" y2="160.1" stroke="#3f8fd0"/><line x1="494.4" y1="128.9" x2="515.9" y2="156.2" stroke="#ee4d52"/><line x1="505.4" y1="132.8" x2="518.9" y2="166.4" stroke="#3f8fd0"/><line x1="521.1" y1="128.9" x2="516.4" y2="174.5" stroke="#3f8fd0"/><line x1="521.5" y1="124.6" x2="523.7" y2="154.5" stroke="#3f8fd0"/><line x1="532.5" y1="113.1" x2="521.5" y2="124.6" stroke="#3f8fd0"/><line x1="490.2" y1="106.9" x2="499.1" y2="130.6" stroke="#ee4d52"/><line x1="485.6" y1="102.3" x2="493.2" y2="121.2" stroke="#3f8fd0"/><line x1="500.3" y1="106.9" x2="507.4" y2="121.2" stroke="#ee4d52"/><line x1="508.3" y1="117.0" x2="513.9" y2="141.0" stroke="#3f8fd0"/><line x1="477.1" y1="100.1" x2="490.2" y2="113.6" stroke="#ee4d52"/><line x1="477.5" y1="116.2" x2="494.4" y2="128.9" stroke="#ee4d52"/><line x1="491.0" y1="100.6" x2="508.3" y2="117.0" stroke="#3f8fd0"/><line x1="528.2" y1="133.1" x2="523.7" y2="154.5" stroke="#ee4d52"/><line x1="535.0" y1="137.8" x2="524.0" y2="148.6" stroke="#3f8fd0"/><line x1="547.6" y1="138.7" x2="528.2" y2="146.6" stroke="#3f8fd0"/><line x1="542.6" y1="141.5" x2="523.7" y2="154.5" stroke="#ee4d52"/><line x1="528.2" y1="133.1" x2="505.4" y2="132.8" stroke="#ee4d52"/><line x1="521.1" y1="128.9" x2="504.6" y2="119.6" stroke="#ee4d52"/><line x1="532.5" y1="113.1" x2="507.4" y2="121.2" stroke="#ee4d52"/><line x1="525.7" y1="102.6" x2="501.2" y2="110.2" stroke="#ee4d52"/><line x1="513.9" y1="99.2" x2="493.6" y2="103.5" stroke="#ee4d52"/><line x1="448.7" y1="55.6" x2="494.4" y2="128.9" stroke="#ee4d52"/><line x1="454.1" y1="67.9" x2="499.1" y2="130.6" stroke="#3f8fd0"/><line x1="466.5" y1="79.8" x2="504.6" y2="147.8" stroke="#ee4d52"/><line x1="463.6" y1="89.4" x2="493.2" y2="121.2" stroke="#ee4d52"/><line x1="476.6" y1="83.2" x2="507.9" y2="150.0" stroke="#ee4d52"/><line x1="458.9" y1="78.6" x2="490.7" y2="115.8" stroke="#3f8fd0"/><line x1="472.4" y1="101.3" x2="505.4" y2="154.5" stroke="#ee4d52"/><line x1="481.4" y1="94.5" x2="509.1" y2="155.4" stroke="#ee4d52"/><line x1="476.6" y1="97.9" x2="500.3" y2="156.2" stroke="#ee4d52"/><line x1="484.2" y1="99.2" x2="513.9" y2="141.0" stroke="#ee4d52"/><line x1="490.2" y1="106.9" x2="515.9" y2="156.2" stroke="#ee4d52"/><line x1="467.0" y1="81.1" x2="501.2" y2="110.2" stroke="#3f8fd0"/><line x1="462.2" y1="60.3" x2="485.6" y2="102.3" stroke="#3f8fd0"/><line x1="491.0" y1="100.6" x2="504.2" y2="139.8" stroke="#3f8fd0"/><line x1="493.6" y1="103.5" x2="508.8" y2="140.5" stroke="#ee4d52"/><line x1="499.1" y1="130.6" x2="504.0" y2="161.8" stroke="#ee4d52"/><line x1="494.4" y1="128.9" x2="502.4" y2="170.3" stroke="#3f8fd0"/><line x1="504.6" y1="147.8" x2="516.4" y2="174.5" stroke="#ee4d52"/><line x1="507.9" y1="150.0" x2="518.9" y2="166.4" stroke="#3f8fd0"/><line x1="500.3" y1="106.9" x2="557.4" y2="81.1" stroke="#ee4d52"/><line x1="501.2" y1="110.2" x2="546.4" y2="91.3" stroke="#ee4d52"/><line x1="508.3" y1="117.0" x2="562.9" y2="95.5" stroke="#ee4d52"/><line x1="507.4" y1="121.2" x2="568.3" y2="101.4" stroke="#ee4d52"/><line x1="521.5" y1="124.6" x2="567.9" y2="113.3" stroke="#ee4d52"/><line x1="513.9" y1="141.0" x2="547.6" y2="138.7" stroke="#3f8fd0"/><line x1="509.1" y1="155.4" x2="542.6" y2="141.5" stroke="#ee4d52"/><line x1="518.6" y1="160.1" x2="557.4" y2="144.9" stroke="#ee4d52"/><line x1="481.4" y1="94.5" x2="484.2" y2="99.2" stroke="#3f8fd0"/><line x1="481.4" y1="94.5" x2="472.4" y2="101.3" stroke="#ee4d52"/><line x1="481.4" y1="94.5" x2="460.0" y2="104.0" stroke="#3f8fd0"/><line x1="481.4" y1="94.5" x2="491.0" y2="100.6" stroke="#3f8fd0"/><line x1="476.6" y1="97.9" x2="485.6" y2="102.3" stroke="#ee4d52"/><line x1="476.6" y1="97.9" x2="472.4" y2="101.3" stroke="#3f8fd0"/><line x1="477.1" y1="100.1" x2="477.5" y2="116.2" stroke="#3f8fd0"/><line x1="485.6" y1="102.3" x2="491.0" y2="100.6" stroke="#ee4d52"/><line x1="472.4" y1="101.3" x2="469.3" y2="109.4" stroke="#ee4d52"/><line x1="472.4" y1="101.3" x2="477.5" y2="116.2" stroke="#ee4d52"/><line x1="463.9" y1="102.3" x2="469.3" y2="109.4" stroke="#ee4d52"/><line x1="460.0" y1="104.0" x2="469.3" y2="109.4" stroke="#3f8fd0"/><line x1="491.0" y1="100.6" x2="493.6" y2="103.5" stroke="#ee4d52"/><line x1="493.6" y1="103.5" x2="490.2" y2="106.9" stroke="#3f8fd0"/><line x1="493.6" y1="103.5" x2="500.3" y2="106.9" stroke="#3f8fd0"/><line x1="501.2" y1="110.2" x2="490.7" y2="115.8" stroke="#ee4d52"/><line x1="501.2" y1="110.2" x2="508.3" y2="117.0" stroke="#3f8fd0"/><line x1="513.9" y1="99.2" x2="508.3" y2="117.0" stroke="#ee4d52"/><line x1="525.7" y1="102.6" x2="521.5" y2="124.6" stroke="#3f8fd0"/><line x1="477.5" y1="116.2" x2="490.2" y2="113.6" stroke="#ee4d52"/><line x1="477.5" y1="116.2" x2="493.2" y2="121.2" stroke="#3f8fd0"/><line x1="490.7" y1="115.8" x2="493.2" y2="121.2" stroke="#3f8fd0"/><line x1="532.5" y1="113.1" x2="528.2" y2="133.1" stroke="#3f8fd0"/><line x1="508.3" y1="117.0" x2="504.6" y2="119.6" stroke="#ee4d52"/><line x1="508.3" y1="117.0" x2="521.5" y2="124.6" stroke="#3f8fd0"/><line x1="493.2" y1="121.2" x2="504.6" y2="119.6" stroke="#3f8fd0"/><line x1="493.2" y1="121.2" x2="494.4" y2="128.9" stroke="#ee4d52"/><line x1="504.6" y1="119.6" x2="521.1" y2="128.9" stroke="#ee4d52"/><line x1="521.5" y1="124.6" x2="521.1" y2="128.9" stroke="#ee4d52"/><line x1="521.5" y1="124.6" x2="528.2" y2="133.1" stroke="#3f8fd0"/><line x1="494.4" y1="128.9" x2="499.1" y2="130.6" stroke="#3f8fd0"/><line x1="494.4" y1="128.9" x2="483.4" y2="132.8" stroke="#3f8fd0"/><line x1="494.4" y1="128.9" x2="489.3" y2="142.7" stroke="#ee4d52"/><line x1="499.1" y1="130.6" x2="505.4" y2="132.8" stroke="#ee4d52"/><line x1="499.1" y1="130.6" x2="489.3" y2="142.7" stroke="#ee4d52"/><line x1="499.1" y1="130.6" x2="504.2" y2="139.8" stroke="#ee4d52"/><line x1="521.1" y1="128.9" x2="505.4" y2="132.8" stroke="#3f8fd0"/><line x1="521.1" y1="128.9" x2="513.9" y2="141.0" stroke="#ee4d52"/><line x1="483.4" y1="132.8" x2="474.1" y2="149.0" stroke="#3f8fd0"/><line x1="505.4" y1="132.8" x2="504.2" y2="139.8" stroke="#3f8fd0"/><line x1="505.4" y1="132.8" x2="508.8" y2="140.5" stroke="#3f8fd0"/><line x1="505.4" y1="132.8" x2="513.9" y2="141.0" stroke="#3f8fd0"/><line x1="528.2" y1="133.1" x2="513.9" y2="141.0" stroke="#ee4d52"/><line x1="528.2" y1="133.1" x2="528.2" y2="146.6" stroke="#ee4d52"/><line x1="489.3" y1="142.7" x2="504.2" y2="139.8" stroke="#ee4d52"/><line x1="489.3" y1="142.7" x2="474.1" y2="149.0" stroke="#ee4d52"/><line x1="489.3" y1="142.7" x2="478.8" y2="153.2" stroke="#ee4d52"/><line x1="504.2" y1="139.8" x2="508.8" y2="140.5" stroke="#3f8fd0"/><line x1="504.2" y1="139.8" x2="504.6" y2="147.8" stroke="#3f8fd0"/><line x1="508.8" y1="140.5" x2="513.9" y2="141.0" stroke="#3f8fd0"/><line x1="508.8" y1="140.5" x2="504.6" y2="147.8" stroke="#3f8fd0"/><line x1="508.8" y1="140.5" x2="507.9" y2="150.0" stroke="#ee4d52"/><line x1="513.9" y1="141.0" x2="528.2" y2="146.6" stroke="#3f8fd0"/><line x1="478.8" y1="153.2" x2="488.1" y2="162.5" stroke="#3f8fd0"/><line x1="478.8" y1="153.2" x2="492.2" y2="171.1" stroke="#3f8fd0"/><line x1="494.9" y1="147.8" x2="504.6" y2="147.8" stroke="#3f8fd0"/><line x1="494.9" y1="147.8" x2="491.9" y2="156.7" stroke="#3f8fd0"/><line x1="494.9" y1="147.8" x2="500.3" y2="156.2" stroke="#ee4d52"/><line x1="504.6" y1="147.8" x2="500.3" y2="156.2" stroke="#3f8fd0"/><line x1="507.9" y1="150.0" x2="505.4" y2="154.5" stroke="#3f8fd0"/><line x1="507.9" y1="150.0" x2="515.9" y2="156.2" stroke="#3f8fd0"/><line x1="524.0" y1="148.6" x2="528.2" y2="146.6" stroke="#ee4d52"/><line x1="524.0" y1="148.6" x2="523.7" y2="154.5" stroke="#ee4d52"/><line x1="528.2" y1="146.6" x2="523.7" y2="154.5" stroke="#ee4d52"/><line x1="523.7" y1="154.5" x2="518.6" y2="160.1" stroke="#ee4d52"/><line x1="523.7" y1="154.5" x2="518.9" y2="166.4" stroke="#ee4d52"/><line x1="523.7" y1="154.5" x2="527.9" y2="172.3" stroke="#3f8fd0"/><line x1="491.9" y1="156.7" x2="488.1" y2="162.5" stroke="#ee4d52"/><line x1="491.9" y1="156.7" x2="504.0" y2="161.8" stroke="#ee4d52"/><line x1="500.3" y1="156.2" x2="505.4" y2="154.5" stroke="#3f8fd0"/><line x1="500.3" y1="156.2" x2="504.0" y2="161.8" stroke="#ee4d52"/><line x1="509.1" y1="155.4" x2="515.9" y2="156.2" stroke="#ee4d52"/><line x1="509.1" y1="155.4" x2="518.6" y2="160.1" stroke="#ee4d52"/><line x1="518.6" y1="160.1" x2="504.0" y2="161.8" stroke="#ee4d52"/><line x1="488.1" y1="162.5" x2="504.0" y2="161.8" stroke="#3f8fd0"/><line x1="488.1" y1="162.5" x2="492.2" y2="171.1" stroke="#ee4d52"/><line x1="504.0" y1="161.8" x2="518.9" y2="166.4" stroke="#ee4d52"/><line x1="504.0" y1="161.8" x2="492.2" y2="171.1" stroke="#ee4d52"/><line x1="504.0" y1="161.8" x2="496.6" y2="172.3" stroke="#ee4d52"/><line x1="518.9" y1="166.4" x2="502.4" y2="170.3" stroke="#ee4d52"/><line x1="518.9" y1="166.4" x2="516.4" y2="174.5" stroke="#3f8fd0"/><line x1="492.2" y1="171.1" x2="496.6" y2="172.3" stroke="#3f8fd0"/><line x1="496.6" y1="172.3" x2="502.4" y2="170.3" stroke="#ee4d52"/><line x1="496.6" y1="172.3" x2="516.4" y2="174.5" stroke="#ee4d52"/><line x1="502.4" y1="170.3" x2="516.4" y2="174.5" stroke="#ee4d52"/><line x1="516.4" y1="174.5" x2="527.9" y2="172.3" stroke="#ee4d52"/></g><g><polygon points="441.8,59.7 441.6,62.9 439.9,62.4" fill="#3f8fd0"/><polygon points="453.7,54.7 456.6,53.3 456.9,55.1" fill="#ee4d52"/><polygon points="447.5,59.6 447.5,62.8 445.7,62.3" fill="#3f8fd0"/><polygon points="477.8,54.8 474.5,55.2 474.9,53.4" fill="#3f8fd0"/><polygon points="459.8,62.6 458.1,65.4 456.9,64.0" fill="#3f8fd0"/><polygon points="454.7,57.7 457.9,57.9 457.3,59.6" fill="#3f8fd0"/><polygon points="482.4,61.6 479.2,60.9 480.0,59.3" fill="#3f8fd0"/><polygon points="510.4,61.2 513.6,60.9 513.3,62.7" fill="#ee4d52"/><polygon points="519.0,68.8 516.0,70.0 515.9,68.2" fill="#ee4d52"/><polygon points="473.7,71.5 475.1,68.5 476.4,69.7" fill="#ee4d52"/><polygon points="497.7,79.7 497.9,82.9 496.2,82.5" fill="#3f8fd0"/><polygon points="502.2,84.6 500.4,87.3 499.2,85.8" fill="#3f8fd0"/><polygon points="491.7,81.8 488.7,83.0 488.5,81.2" fill="#ee4d52"/><polygon points="538.1,80.8 535.0,81.6 535.0,79.8" fill="#ee4d52"/><polygon points="478.4,74.7 475.5,73.3 476.7,71.9" fill="#ee4d52"/><polygon points="465.4,73.4 468.2,75.0 466.9,76.3" fill="#ee4d52"/><polygon points="466.3,82.2 463.8,80.1 465.3,79.1" fill="#ee4d52"/><polygon points="449.6,72.8 452.7,73.7 451.7,75.2" fill="#3f8fd0"/><polygon points="459.3,76.1 456.1,75.6 456.9,74.0" fill="#3f8fd0"/><polygon points="451.5,73.4 454.8,73.8 454.0,75.4" fill="#3f8fd0"/><polygon points="448.0,89.3 450.7,91.1 449.3,92.3" fill="#ee4d52"/><polygon points="445.6,84.9 442.8,83.3 444.2,82.1" fill="#ee4d52"/><polygon points="449.4,81.6 447.4,79.1 449.1,78.4" fill="#ee4d52"/><polygon points="456.9,115.3 454.7,112.9 456.3,112.1" fill="#ee4d52"/><polygon points="476.1,89.6 473.2,88.1 474.4,86.8" fill="#3f8fd0"/><polygon points="476.5,90.6 473.7,88.9 475.1,87.7" fill="#3f8fd0"/><polygon points="474.1,89.1 476.9,90.7 475.6,92.0" fill="#3f8fd0"/><polygon points="487.8,87.2 484.6,87.0 485.2,85.3" fill="#3f8fd0"/><polygon points="463.7,95.1 464.7,98.2 462.9,98.2" fill="#ee4d52"/><polygon points="461.6,84.7 459.5,82.2 461.1,81.5" fill="#3f8fd0"/><polygon points="456.0,96.9 458.3,99.2 456.7,100.1" fill="#3f8fd0"/><polygon points="461.2,100.1 458.3,98.8 459.4,97.4" fill="#3f8fd0"/><polygon points="466.4,107.7 463.3,107.0 464.2,105.4" fill="#3f8fd0"/><polygon points="504.8,94.6 501.6,94.0 502.4,92.3" fill="#3f8fd0"/><polygon points="494.1,99.8 493.7,96.6 495.5,96.9" fill="#3f8fd0"/><polygon points="503.1,96.8 503.0,93.5 504.8,94.0" fill="#ee4d52"/><polygon points="516.9,100.1 520.2,100.1 519.7,101.8" fill="#3f8fd0"/><polygon points="461.3,74.8 458.4,73.3 459.7,72.0" fill="#3f8fd0"/><polygon points="463.2,80.7 465.8,82.7 464.3,83.7" fill="#ee4d52"/><polygon points="569.9,68.1 566.8,68.9 566.9,67.1" fill="#3f8fd0"/><polygon points="548.2,77.8 550.9,79.6 549.5,80.8" fill="#ee4d52"/><polygon points="569.7,76.7 572.3,74.8 572.9,76.5" fill="#ee4d52"/><polygon points="587.0,79.6 583.9,80.7 583.8,78.8" fill="#ee4d52"/><polygon points="541.0,87.9 538.5,89.9 537.8,88.3" fill="#3f8fd0"/><polygon points="557.9,94.2 554.6,94.3 555.1,92.6" fill="#ee4d52"/><polygon points="523.9,100.7 521.3,102.8 520.6,101.1" fill="#3f8fd0"/><polygon points="544.8,98.9 547.7,97.5 548.1,99.3" fill="#3f8fd0"/><polygon points="580.9,89.1 578.2,90.9 577.7,89.2" fill="#ee4d52"/><polygon points="576.5,91.4 579.1,89.5 579.7,91.3" fill="#ee4d52"/><polygon points="581.0,93.9 578.1,95.4 577.8,93.6" fill="#ee4d52"/><polygon points="568.2,105.4 569.0,108.5 567.2,108.5" fill="#3f8fd0"/><polygon points="558.6,104.6 559.1,101.3 560.8,102.1" fill="#3f8fd0"/><polygon points="560.0,104.8 559.4,108.0 557.8,107.2" fill="#3f8fd0"/><polygon points="546.5,105.0 548.8,102.6 549.7,104.2" fill="#ee4d52"/><polygon points="538.5,111.1 535.3,110.6 536.1,108.9" fill="#3f8fd0"/><polygon points="530.1,109.4 527.7,107.3 529.2,106.3" fill="#3f8fd0"/><polygon points="597.2,91.8 599.9,90.0 600.4,91.7" fill="#ee4d52"/><polygon points="591.1,105.9 593.8,104.1 594.3,105.8" fill="#ee4d52"/><polygon points="588.7,115.0 591.9,114.4 591.7,116.2" fill="#ee4d52"/><polygon points="605.5,74.0 602.3,73.8 602.9,72.1" fill="#3f8fd0"/><polygon points="597.9,78.3 595.5,76.3 597.0,75.2" fill="#3f8fd0"/><polygon points="613.1,83.3 609.9,84.1 610.0,82.3" fill="#3f8fd0"/><polygon points="605.7,84.9 609.0,85.3 608.2,87.0" fill="#3f8fd0"/><polygon points="610.3,82.8 608.4,85.4 607.3,84.0" fill="#3f8fd0"/><polygon points="626.8,90.8 624.2,88.7 625.7,87.7" fill="#3f8fd0"/><polygon points="625.5,96.8 624.3,93.8 626.1,93.6" fill="#ee4d52"/><polygon points="638.8,103.1 635.9,101.6 637.2,100.3" fill="#3f8fd0"/><polygon points="589.8,108.8 590.7,105.7 592.2,106.6" fill="#ee4d52"/><polygon points="611.9,94.8 610.4,97.7 609.1,96.4" fill="#ee4d52"/><polygon points="608.9,97.0 610.2,94.0 611.6,95.2" fill="#ee4d52"/><polygon points="593.2,111.5 595.1,108.9 596.2,110.3" fill="#3f8fd0"/><polygon points="584.9,106.5 582.0,108.0 581.7,106.2" fill="#ee4d52"/><polygon points="630.4,115.6 633.4,114.1 633.7,115.9" fill="#ee4d52"/><polygon points="630.3,118.5 632.7,120.6 631.2,121.6" fill="#ee4d52"/><polygon points="625.2,121.2 628.3,122.1 627.3,123.6" fill="#ee4d52"/><polygon points="641.5,123.3 643.2,120.5 644.4,121.9" fill="#3f8fd0"/><polygon points="586.1,123.0 589.0,121.6 589.3,123.4" fill="#3f8fd0"/><polygon points="582.3,109.5 579.5,111.3 579.0,109.6" fill="#ee4d52"/><polygon points="597.0,108.5 595.2,111.1 594.0,109.7" fill="#3f8fd0"/><polygon points="590.6,130.4 593.9,130.3 593.4,132.1" fill="#3f8fd0"/><polygon points="565.4,118.4 568.5,119.3 567.6,120.8" fill="#3f8fd0"/><polygon points="595.5,150.0 592.4,149.1 593.4,147.6" fill="#3f8fd0"/><polygon points="598.5,137.6 595.8,139.5 595.2,137.8" fill="#3f8fd0"/><polygon points="574.2,143.5 571.1,144.7 571.0,142.9" fill="#3f8fd0"/><polygon points="557.6,167.1 556.7,164.0 558.5,164.0" fill="#ee4d52"/><polygon points="552.8,143.8 549.6,144.0 550.0,142.3" fill="#ee4d52"/><polygon points="557.4,158.4 559.6,156.0 560.6,157.6" fill="#ee4d52"/><polygon points="586.7,165.6 584.7,168.1 583.7,166.6" fill="#ee4d52"/><polygon points="623.9,137.7 622.0,140.3 620.9,138.9" fill="#ee4d52"/><polygon points="623.3,130.9 620.5,132.5 620.1,130.7" fill="#ee4d52"/><polygon points="558.7,132.7 561.0,130.4 561.9,132.0" fill="#ee4d52"/><polygon points="555.9,121.8 554.8,118.7 556.6,118.6" fill="#3f8fd0"/><polygon points="561.1,117.6 561.5,114.4 563.2,115.1" fill="#3f8fd0"/><polygon points="538.3,128.5 535.2,129.4 535.2,127.6" fill="#ee4d52"/><polygon points="568.0,109.4 567.2,106.3 569.0,106.4" fill="#3f8fd0"/><polygon points="530.0,109.3 527.6,107.2 529.1,106.2" fill="#3f8fd0"/><polygon points="549.4,173.2 552.6,173.8 551.8,175.4" fill="#ee4d52"/><polygon points="540.1,194.5 537.9,196.8 537.0,195.3" fill="#3f8fd0"/><polygon points="537.5,195.2 539.7,192.7 540.6,194.3" fill="#3f8fd0"/><polygon points="545.4,189.4 547.8,187.3 548.6,188.9" fill="#3f8fd0"/><polygon points="550.0,130.6 553.0,129.3 553.2,131.1" fill="#3f8fd0"/><polygon points="573.5,137.0 570.5,138.1 570.4,136.3" fill="#3f8fd0"/><polygon points="560.2,128.1 562.8,126.1 563.5,127.8" fill="#ee4d52"/><polygon points="541.9,159.3 540.2,162.1 539.0,160.8" fill="#ee4d52"/><polygon points="537.4,156.1 535.1,158.4 534.2,156.8" fill="#ee4d52"/><polygon points="547.1,152.5 544.3,154.2 543.8,152.4" fill="#ee4d52"/><polygon points="528.1,163.9 531.3,164.2 530.7,165.8" fill="#3f8fd0"/><polygon points="476.6,171.7 477.7,174.8 475.9,174.9" fill="#3f8fd0"/><polygon points="476.7,180.6 475.5,177.6 477.3,177.5" fill="#3f8fd0"/><polygon points="477.5,169.7 476.1,166.8 477.9,166.5" fill="#3f8fd0"/><polygon points="479.7,171.9 478.7,168.9 480.5,168.8" fill="#ee4d52"/><polygon points="482.1,179.6 480.8,176.6 482.6,176.4" fill="#ee4d52"/><polygon points="482.2,193.8 480.5,191.1 482.2,190.6" fill="#ee4d52"/><polygon points="488.3,209.7 491.1,211.3 489.8,212.6" fill="#ee4d52"/><polygon points="491.2,205.1 493.8,207.1 492.3,208.2" fill="#3f8fd0"/><polygon points="488.7,203.2 491.4,205.1 490.0,206.2" fill="#3f8fd0"/><polygon points="492.9,199.8 496.2,200.0 495.6,201.7" fill="#ee4d52"/><polygon points="507.9,201.4 509.7,198.7 510.9,200.1" fill="#3f8fd0"/><polygon points="506.6,213.8 504.3,216.1 503.4,214.5" fill="#ee4d52"/><polygon points="503.8,212.0 505.6,209.3 506.8,210.7" fill="#ee4d52"/><polygon points="503.9,209.0 505.1,206.0 506.5,207.1" fill="#3f8fd0"/><polygon points="506.5,207.0 507.6,203.9 509.0,205.0" fill="#3f8fd0"/><polygon points="514.9,203.0 513.9,199.9 515.7,199.9" fill="#ee4d52"/><polygon points="525.9,195.1 522.8,195.7 522.9,193.9" fill="#ee4d52"/><polygon points="525.7,191.4 522.7,190.3 523.8,188.8" fill="#3f8fd0"/><polygon points="514.4,192.9 513.2,189.9 515.0,189.7" fill="#3f8fd0"/><polygon points="522.9,181.9 522.2,185.1 520.6,184.3" fill="#3f8fd0"/><polygon points="515.4,178.1 515.4,181.3 513.6,180.8" fill="#3f8fd0"/><polygon points="485.6,180.8 486.6,177.7 488.1,178.7" fill="#ee4d52"/><polygon points="485.9,182.8 487.4,180.0 488.7,181.3" fill="#ee4d52"/><polygon points="490.1,184.9 490.7,181.7 492.4,182.6" fill="#ee4d52"/><polygon points="492.2,184.9 493.3,181.9 494.8,182.9" fill="#ee4d52"/><polygon points="488.1,183.6 488.0,186.8 486.2,186.2" fill="#3f8fd0"/><polygon points="506.8,175.9 509.4,177.8 508.0,178.9" fill="#3f8fd0"/><polygon points="509.3,184.6 507.1,182.2 508.8,181.4" fill="#3f8fd0"/><polygon points="517.7,171.5 514.5,172.2 514.6,170.3" fill="#3f8fd0"/><polygon points="482.5,156.9 485.3,158.5 484.1,159.7" fill="#3f8fd0"/><polygon points="493.1,162.3 496.2,161.2 496.3,163.1" fill="#3f8fd0"/><polygon points="467.7,128.6 465.9,125.9 467.6,125.4" fill="#ee4d52"/><polygon points="476.4,121.8 473.9,119.7 475.5,118.7" fill="#3f8fd0"/><polygon points="479.3,126.1 481.7,128.3 480.2,129.3" fill="#ee4d52"/><polygon points="474.3,113.5 471.3,112.3 472.5,110.9" fill="#3f8fd0"/><polygon points="480.1,123.4 482.0,126.0 480.2,126.6" fill="#3f8fd0"/><polygon points="485.4,136.2 487.8,138.4 486.2,139.3" fill="#ee4d52"/><polygon points="485.6,146.4 484.1,149.2 482.8,147.9" fill="#ee4d52"/><polygon points="490.5,148.9 491.9,151.8 490.1,152.1" fill="#3f8fd0"/><polygon points="479.3,139.9 478.6,143.1 477.0,142.1" fill="#3f8fd0"/><polygon points="492.7,131.0 494.0,133.9 492.2,134.2" fill="#3f8fd0"/><polygon points="499.7,136.4 497.7,133.9 499.3,133.2" fill="#ee4d52"/><polygon points="510.0,135.6 508.2,132.9 509.9,132.3" fill="#3f8fd0"/><polygon points="503.6,140.6 506.2,142.4 504.8,143.6" fill="#ee4d52"/><polygon points="512.2,149.7 510.2,147.1 511.9,146.5" fill="#3f8fd0"/><polygon points="518.2,157.4 517.6,154.2 519.4,154.4" fill="#3f8fd0"/><polygon points="522.4,137.4 523.6,140.4 521.8,140.6" fill="#3f8fd0"/><polygon points="525.1,120.9 526.6,118.0 527.9,119.2" fill="#3f8fd0"/><polygon points="495.5,120.9 493.5,118.3 495.2,117.6" fill="#ee4d52"/><polygon points="488.5,109.5 490.5,112.0 488.8,112.7" fill="#3f8fd0"/><polygon points="505.3,116.9 503.1,114.5 504.7,113.7" fill="#ee4d52"/><polygon points="511.4,130.3 509.8,127.5 511.6,127.1" fill="#3f8fd0"/><polygon points="483.1,106.3 485.9,107.9 484.6,109.2" fill="#ee4d52"/><polygon points="488.6,124.5 485.5,123.4 486.6,121.9" fill="#ee4d52"/><polygon points="502.2,111.2 499.3,109.7 500.6,108.4" fill="#3f8fd0"/><polygon points="526.3,142.2 526.5,145.5 524.7,145.1" fill="#ee4d52"/><polygon points="527.5,145.1 529.1,142.3 530.4,143.6" fill="#3f8fd0"/><polygon points="538.3,142.5 535.7,144.5 535.0,142.8" fill="#3f8fd0"/><polygon points="531.4,149.2 533.5,146.7 534.5,148.2" fill="#ee4d52"/><polygon points="515.7,132.9 518.8,132.1 518.8,133.9" fill="#ee4d52"/><polygon points="510.9,123.2 514.1,123.9 513.2,125.5" fill="#ee4d52"/><polygon points="519.6,117.3 516.9,119.1 516.3,117.4" fill="#ee4d52"/><polygon points="510.1,107.4 512.8,105.7 513.3,107.4" fill="#ee4d52"/><polygon points="506.3,100.8 503.4,102.4 503.0,100.6" fill="#ee4d52"/><polygon points="474.6,97.1 472.2,95.0 473.7,94.0" fill="#ee4d52"/><polygon points="471.0,91.5 473.6,93.5 472.1,94.5" fill="#3f8fd0"/><polygon points="488.1,118.3 490.4,120.6 488.8,121.4" fill="#ee4d52"/><polygon points="478.8,105.7 481.6,107.4 480.2,108.6" fill="#ee4d52"/><polygon points="488.6,108.8 490.8,111.3 489.1,112.0" fill="#ee4d52"/><polygon points="475.9,98.5 478.6,100.3 477.2,101.4" fill="#3f8fd0"/><polygon points="492.7,134.0 490.2,131.8 491.8,130.8" fill="#ee4d52"/><polygon points="496.6,128.0 494.5,125.6 496.2,124.8" fill="#ee4d52"/><polygon points="487.6,124.9 485.5,122.3 487.2,121.6" fill="#ee4d52"/><polygon points="500.7,122.4 503.2,124.4 501.7,125.4" fill="#ee4d52"/><polygon points="503.3,132.0 501.1,129.7 502.7,128.9" fill="#ee4d52"/><polygon points="482.5,94.3 479.6,93.0 480.7,91.6" fill="#3f8fd0"/><polygon points="471.8,77.6 474.2,79.9 472.6,80.8" fill="#3f8fd0"/><polygon points="498.0,121.3 499.8,123.9 498.1,124.5" fill="#3f8fd0"/><polygon points="501.4,122.4 499.3,119.8 501.0,119.2" fill="#ee4d52"/><polygon points="501.3,144.4 502.6,147.3 500.9,147.6" fill="#ee4d52"/><polygon points="498.2,148.8 499.7,151.7 497.9,152.0" fill="#3f8fd0"/><polygon points="511.7,163.9 509.6,161.5 511.3,160.7" fill="#ee4d52"/><polygon points="514.7,160.2 512.3,158.1 513.8,157.1" fill="#3f8fd0"/><polygon points="522.4,96.9 524.9,94.8 525.6,96.4" fill="#ee4d52"/><polygon points="521.0,101.9 523.5,99.9 524.2,101.6" fill="#ee4d52"/><polygon points="537.9,105.3 535.4,107.3 534.7,105.6" fill="#ee4d52"/><polygon points="542.7,109.7 540.0,111.5 539.5,109.8" fill="#ee4d52"/><polygon points="546.3,118.6 549.1,117.0 549.5,118.7" fill="#ee4d52"/><polygon points="531.8,139.8 528.7,140.9 528.6,139.1" fill="#3f8fd0"/><polygon points="526.2,148.3 528.8,146.3 529.5,147.9" fill="#ee4d52"/><polygon points="535.0,153.7 537.6,151.7 538.3,153.4" fill="#ee4d52"/><polygon points="474.9,99.4 476.8,96.8 477.9,98.3" fill="#ee4d52"/><polygon points="467.7,100.6 470.2,98.5 470.9,100.1" fill="#3f8fd0"/><polygon points="488.0,98.7 484.9,97.8 485.9,96.3" fill="#3f8fd0"/><polygon points="479.7,99.4 482.9,100.0 482.1,101.6" fill="#ee4d52"/><polygon points="477.2,106.0 478.2,109.1 476.4,109.2" fill="#3f8fd0"/><polygon points="475.2,109.5 473.3,106.9 475.1,106.3" fill="#ee4d52"/><polygon points="463.9,106.3 467.0,107.0 466.1,108.6" fill="#3f8fd0"/><polygon points="495.2,113.4 497.5,111.1 498.4,112.7" fill="#ee4d52"/><polygon points="510.3,110.6 510.4,107.3 512.1,107.9" fill="#ee4d52"/><polygon points="523.0,116.8 522.7,113.6 524.5,113.9" fill="#3f8fd0"/><polygon points="483.1,115.0 486.0,113.5 486.4,115.3" fill="#ee4d52"/><polygon points="482.1,117.7 485.4,117.8 484.8,119.5" fill="#3f8fd0"/><polygon points="530.8,120.8 531.1,124.1 529.3,123.7" fill="#3f8fd0"/><polygon points="515.3,121.0 512.1,120.2 513.0,118.7" fill="#3f8fd0"/><polygon points="500.7,120.1 497.8,121.5 497.5,119.7" fill="#3f8fd0"/><polygon points="512.7,124.2 515.8,124.9 515.0,126.5" fill="#ee4d52"/><polygon points="523.3,126.9 526.0,128.8 524.5,129.9" fill="#3f8fd0"/><polygon points="486.4,131.7 489.1,129.8 489.7,131.5" fill="#3f8fd0"/><polygon points="491.4,136.9 491.7,133.7 493.4,134.3" fill="#ee4d52"/><polygon points="496.0,134.4 494.8,137.4 493.4,136.2" fill="#ee4d52"/><polygon points="502.4,136.6 500.1,134.3 501.7,133.4" fill="#ee4d52"/><polygon points="515.8,130.2 513.0,131.8 512.6,130.1" fill="#3f8fd0"/><polygon points="518.9,132.6 518.1,135.7 516.5,134.8" fill="#ee4d52"/><polygon points="478.6,141.1 479.4,137.9 481.0,138.8" fill="#3f8fd0"/><polygon points="511.1,138.3 508.3,136.8 509.5,135.5" fill="#3f8fd0"/><polygon points="518.5,138.5 520.8,136.2 521.6,137.8" fill="#ee4d52"/><polygon points="528.2,137.1 529.1,140.2 527.3,140.2" fill="#ee4d52"/><polygon points="499.6,140.7 496.7,142.2 496.4,140.4" fill="#ee4d52"/><polygon points="479.3,146.9 481.8,144.8 482.5,146.5" fill="#ee4d52"/><polygon points="482.6,149.4 484.2,146.5 485.5,147.8" fill="#ee4d52"/><polygon points="524.0,145.0 520.8,144.7 521.5,143.0" fill="#3f8fd0"/><polygon points="481.7,156.1 484.5,157.6 483.2,158.9" fill="#3f8fd0"/><polygon points="485.1,161.6 487.7,163.5 486.2,164.6" fill="#3f8fd0"/><polygon points="510.2,151.8 513.2,153.0 512.1,154.4" fill="#3f8fd0"/><polygon points="520.3,163.0 520.6,159.8 522.3,160.5" fill="#ee4d52"/><polygon points="525.0,160.0 526.6,162.9 524.8,163.3" fill="#3f8fd0"/><polygon points="500.3,160.3 497.1,159.9 497.8,158.2" fill="#ee4d52"/><polygon points="511.3,156.5 514.5,157.0 513.7,158.7" fill="#ee4d52"/><polygon points="513.8,160.7 510.8,161.9 510.6,160.1" fill="#ee4d52"/><polygon points="497.3,162.1 494.2,163.1 494.1,161.3" fill="#3f8fd0"/><polygon points="512.5,164.4 509.2,164.4 509.8,162.6" fill="#ee4d52"/><polygon points="496.7,167.6 498.5,164.9 499.7,166.4" fill="#ee4d52"/><polygon points="498.7,169.3 499.8,166.2 501.3,167.2" fill="#ee4d52"/><polygon points="514.0,167.6 511.2,169.2 510.8,167.4" fill="#ee4d52"/><polygon points="509.3,173.7 506.1,174.3 506.3,172.5" fill="#ee4d52"/><polygon points="508.5,172.1 511.8,172.2 511.2,173.9" fill="#ee4d52"/><polygon points="519.1,174.0 522.0,172.5 522.4,174.3" fill="#ee4d52"/></g><g fill="#1e6fc4"><circle cx="445.0" cy="50.2" r="2.00"/><circle cx="448.7" cy="55.6" r="2.00"/><circle cx="465.3" cy="52.7" r="2.00"/><circle cx="486.8" cy="56.4" r="2.00"/><circle cx="462.2" cy="60.3" r="2.00"/><circle cx="454.1" cy="67.9" r="2.00"/><circle cx="444.5" cy="69.6" r="2.00"/><circle cx="436.5" cy="75.2" r="2.00"/><circle cx="499.5" cy="70.5" r="2.00"/><circle cx="539.3" cy="67.1" r="2.00"/><circle cx="458.9" cy="78.6" r="2.00"/><circle cx="466.5" cy="79.8" r="2.00"/><circle cx="467.0" cy="81.1" r="2.00"/><circle cx="476.6" cy="83.2" r="2.00"/><circle cx="507.6" cy="80.3" r="2.00"/><circle cx="463.6" cy="89.4" r="2.00"/><circle cx="495.6" cy="89.9" r="2.00"/><circle cx="454.6" cy="94.5" r="2.00"/><circle cx="481.4" cy="94.5" r="2.00"/><circle cx="476.6" cy="97.9" r="2.00"/><circle cx="477.1" cy="100.1" r="2.00"/><circle cx="484.2" cy="99.2" r="2.00"/><circle cx="485.6" cy="102.3" r="2.00"/><circle cx="472.4" cy="101.3" r="2.00"/><circle cx="463.9" cy="102.3" r="2.00"/><circle cx="460.0" cy="104.0" r="2.00"/><circle cx="491.0" cy="100.6" r="2.00"/><circle cx="493.6" cy="103.5" r="2.00"/><circle cx="490.2" cy="106.9" r="2.00"/><circle cx="500.3" cy="106.9" r="2.00"/><circle cx="501.2" cy="110.2" r="2.00"/><circle cx="513.9" cy="99.2" r="2.00"/><circle cx="525.7" cy="102.6" r="2.00"/><circle cx="469.3" cy="109.4" r="2.00"/><circle cx="477.5" cy="116.2" r="2.00"/><circle cx="490.2" cy="113.6" r="2.00"/><circle cx="490.7" cy="115.8" r="2.00"/><circle cx="532.5" cy="113.1" r="2.00"/><circle cx="508.3" cy="117.0" r="2.00"/><circle cx="493.2" cy="121.2" r="2.00"/><circle cx="504.6" cy="119.6" r="2.00"/><circle cx="507.4" cy="121.2" r="2.00"/><circle cx="521.5" cy="124.6" r="2.00"/><circle cx="494.4" cy="128.9" r="2.00"/><circle cx="499.1" cy="130.6" r="2.00"/><circle cx="521.1" cy="128.9" r="2.00"/><circle cx="483.4" cy="132.8" r="2.00"/><circle cx="505.4" cy="132.8" r="2.00"/><circle cx="528.2" cy="133.1" r="2.00"/><circle cx="535.0" cy="137.8" r="2.00"/><circle cx="591.6" cy="68.8" r="2.00"/><circle cx="557.4" cy="81.1" r="2.00"/><circle cx="616.5" cy="78.1" r="2.00"/><circle cx="623.8" cy="79.4" r="2.00"/><circle cx="600.9" cy="82.8" r="2.00"/><circle cx="621.8" cy="83.7" r="2.00"/><circle cx="601.4" cy="89.6" r="2.00"/><circle cx="616.2" cy="89.4" r="2.00"/><circle cx="628.9" cy="93.8" r="2.00"/><circle cx="546.4" cy="91.3" r="2.00"/><circle cx="562.9" cy="95.5" r="2.00"/><circle cx="563.7" cy="97.5" r="2.00"/><circle cx="568.3" cy="101.4" r="2.00"/><circle cx="603.8" cy="103.1" r="2.00"/><circle cx="555.2" cy="111.9" r="2.00"/><circle cx="567.9" cy="113.3" r="2.00"/><circle cx="627.2" cy="113.3" r="2.00"/><circle cx="648.8" cy="112.4" r="2.00"/><circle cx="650.9" cy="115.0" r="2.00"/><circle cx="619.2" cy="117.5" r="2.00"/><circle cx="553.2" cy="118.2" r="2.00"/><circle cx="583.7" cy="119.0" r="2.00"/><circle cx="556.4" cy="128.0" r="2.00"/><circle cx="579.3" cy="127.2" r="2.00"/><circle cx="636.1" cy="128.0" r="2.00"/><circle cx="606.5" cy="134.8" r="2.00"/><circle cx="547.6" cy="138.7" r="2.00"/><circle cx="542.6" cy="141.5" r="2.00"/><circle cx="489.3" cy="142.7" r="2.00"/><circle cx="504.2" cy="139.8" r="2.00"/><circle cx="508.8" cy="140.5" r="2.00"/><circle cx="513.9" cy="141.0" r="2.00"/><circle cx="474.1" cy="149.0" r="2.00"/><circle cx="478.8" cy="153.2" r="2.00"/><circle cx="494.9" cy="147.8" r="2.00"/><circle cx="504.6" cy="147.8" r="2.00"/><circle cx="507.9" cy="150.0" r="2.00"/><circle cx="524.0" cy="148.6" r="2.00"/><circle cx="528.2" cy="146.6" r="2.00"/><circle cx="523.7" cy="154.5" r="2.00"/><circle cx="491.9" cy="156.7" r="2.00"/><circle cx="500.3" cy="156.2" r="2.00"/><circle cx="505.4" cy="154.5" r="2.00"/><circle cx="509.1" cy="155.4" r="2.00"/><circle cx="515.9" cy="156.2" r="2.00"/><circle cx="518.6" cy="160.1" r="2.00"/><circle cx="488.1" cy="162.5" r="2.00"/><circle cx="504.0" cy="161.8" r="2.00"/><circle cx="518.9" cy="166.4" r="2.00"/><circle cx="492.2" cy="171.1" r="2.00"/><circle cx="496.6" cy="172.3" r="2.00"/><circle cx="502.4" cy="170.3" r="2.00"/><circle cx="516.4" cy="174.5" r="2.00"/><circle cx="527.9" cy="172.3" r="2.00"/><circle cx="540.1" cy="168.6" r="2.00"/><circle cx="513.5" cy="184.5" r="2.00"/><circle cx="518.9" cy="186.4" r="2.00"/><circle cx="480.5" cy="188.1" r="2.00"/><circle cx="514.7" cy="195.7" r="2.00"/><circle cx="516.4" cy="194.3" r="2.00"/><circle cx="531.3" cy="195.5" r="2.00"/><circle cx="483.4" cy="197.7" r="2.00"/><circle cx="484.2" cy="196.5" r="2.00"/><circle cx="478.8" cy="200.2" r="2.00"/><circle cx="504.6" cy="204.1" r="2.00"/><circle cx="511.8" cy="205.3" r="2.00"/><circle cx="515.0" cy="209.2" r="2.00"/><circle cx="499.0" cy="216.0" r="2.00"/><circle cx="497.4" cy="218.9" r="2.00"/><circle cx="557.4" cy="144.9" r="2.00"/><circle cx="584.0" cy="142.7" r="2.00"/><circle cx="602.6" cy="154.5" r="2.00"/><circle cx="557.8" cy="183.3" r="2.00"/><circle cx="564.9" cy="180.8" r="2.00"/></g>
<g shape-rendering="crispEdges"><rect x="51.40" y="295.50" width="28.29" height="30.25" fill="rgb(224,224,255)"/><rect x="79.39" y="295.50" width="28.29" height="30.25" fill="rgb(255,252,252)"/><rect x="107.38" y="295.50" width="28.29" height="30.25" fill="rgb(255,235,235)"/><rect x="135.37" y="295.50" width="28.29" height="30.25" fill="rgb(255,217,217)"/><rect x="163.36" y="295.50" width="28.29" height="30.25" fill="rgb(255,224,224)"/><rect x="191.34" y="295.50" width="28.29" height="30.25" fill="rgb(255,224,224)"/><rect x="219.33" y="295.50" width="28.29" height="30.25" fill="rgb(255,240,240)"/><rect x="247.32" y="295.50" width="28.29" height="30.25" fill="rgb(235,235,255)"/><rect x="275.31" y="295.50" width="28.29" height="30.25" fill="rgb(217,217,255)"/><rect x="51.40" y="325.45" width="28.29" height="30.25" fill="rgb(242,242,255)"/><rect x="79.39" y="325.45" width="28.29" height="30.25" fill="rgb(255,252,252)"/><rect x="107.38" y="325.45" width="28.29" height="30.25" fill="rgb(255,247,247)"/><rect x="135.37" y="325.45" width="28.29" height="30.25" fill="rgb(255,235,235)"/><rect x="163.36" y="325.45" width="28.29" height="30.25" fill="rgb(255,247,247)"/><rect x="191.34" y="325.45" width="28.29" height="30.25" fill="rgb(255,252,252)"/><rect x="219.33" y="325.45" width="28.29" height="30.25" fill="rgb(247,247,255)"/><rect x="247.32" y="325.45" width="28.29" height="30.25" fill="rgb(222,222,255)"/><rect x="275.31" y="325.45" width="28.29" height="30.25" fill="rgb(235,235,255)"/><rect x="51.40" y="355.40" width="28.29" height="30.25" fill="rgb(232,232,255)"/><rect x="79.39" y="355.40" width="28.29" height="30.25" fill="rgb(250,250,255)"/><rect x="107.38" y="355.40" width="28.29" height="30.25" fill="rgb(245,245,255)"/><rect x="135.37" y="355.40" width="28.29" height="30.25" fill="rgb(247,247,255)"/><rect x="163.36" y="355.40" width="28.29" height="30.25" fill="rgb(245,245,255)"/><rect x="191.34" y="355.40" width="28.29" height="30.25" fill="rgb(247,247,255)"/><rect x="219.33" y="355.40" width="28.29" height="30.25" fill="rgb(250,250,255)"/><rect x="247.32" y="355.40" width="28.29" height="30.25" fill="rgb(237,237,255)"/><rect x="275.31" y="355.40" width="28.29" height="30.25" fill="rgb(235,235,255)"/><rect x="51.40" y="385.35" width="28.29" height="30.25" fill="rgb(255,255,255)"/><rect x="79.39" y="385.35" width="28.29" height="30.25" fill="rgb(255,252,252)"/><rect x="107.38" y="385.35" width="28.29" height="30.25" fill="rgb(255,252,252)"/><rect x="135.37" y="385.35" width="28.29" height="30.25" fill="rgb(237,237,255)"/><rect x="163.36" y="385.35" width="28.29" height="30.25" fill="rgb(247,247,255)"/><rect x="191.34" y="385.35" width="28.29" height="30.25" fill="rgb(247,247,255)"/><rect x="219.33" y="385.35" width="28.29" height="30.25" fill="rgb(245,245,255)"/><rect x="247.32" y="385.35" width="28.29" height="30.25" fill="rgb(222,222,255)"/><rect x="275.31" y="385.35" width="28.29" height="30.25" fill="rgb(245,245,255)"/><rect x="51.40" y="415.30" width="28.29" height="30.25" fill="rgb(255,222,222)"/><rect x="79.39" y="415.30" width="28.29" height="30.25" fill="rgb(255,255,255)"/><rect x="107.38" y="415.30" width="28.29" height="30.25" fill="rgb(242,242,255)"/><rect x="135.37" y="415.30" width="28.29" height="30.25" fill="rgb(255,255,255)"/><rect x="163.36" y="415.30" width="28.29" height="30.25" fill="rgb(247,247,255)"/><rect x="191.34" y="415.30" width="28.29" height="30.25" fill="rgb(247,247,255)"/><rect x="219.33" y="415.30" width="28.29" height="30.25" fill="rgb(240,240,255)"/><rect x="247.32" y="415.30" width="28.29" height="30.25" fill="rgb(235,235,255)"/><rect x="275.31" y="415.30" width="28.29" height="30.25" fill="rgb(245,245,255)"/><rect x="51.40" y="445.25" width="28.29" height="30.25" fill="rgb(255,245,245)"/><rect x="79.39" y="445.25" width="28.29" height="30.25" fill="rgb(255,255,255)"/><rect x="107.38" y="445.25" width="28.29" height="30.25" fill="rgb(252,252,255)"/><rect x="135.37" y="445.25" width="28.29" height="30.25" fill="rgb(240,240,255)"/><rect x="163.36" y="445.25" width="28.29" height="30.25" fill="rgb(237,237,255)"/><rect x="191.34" y="445.25" width="28.29" height="30.25" fill="rgb(217,217,255)"/><rect x="219.33" y="445.25" width="28.29" height="30.25" fill="rgb(204,204,255)"/><rect x="247.32" y="445.25" width="28.29" height="30.25" fill="rgb(237,237,255)"/><rect x="275.31" y="445.25" width="28.29" height="30.25" fill="rgb(230,230,255)"/></g><path d="M51.4 295.5 V475.2 H303.3 M51.4 295.5 H303.3" fill="none" stroke="#8c8c94" stroke-width="0.8"/><text x="42.8" y="316.0" font-size="17.6" text-anchor="end" font-family="Liberation Sans, sans-serif">7</text><text x="42.8" y="345.9" font-size="17.6" text-anchor="end" font-family="Liberation Sans, sans-serif">6</text><text x="42.8" y="375.9" font-size="17.6" text-anchor="end" font-family="Liberation Sans, sans-serif">5</text><text x="42.8" y="405.8" font-size="17.6" text-anchor="end" font-family="Liberation Sans, sans-serif">4</text><text x="42.8" y="435.8" font-size="17.6" text-anchor="end" font-family="Liberation Sans, sans-serif">3</text><text x="42.8" y="465.7" font-size="17.6" text-anchor="end" font-family="Liberation Sans, sans-serif">2</text><text x="65.7" y="496.4" font-size="17" text-anchor="middle" textLength="24.6" lengthAdjust="spacingAndGlyphs" font-family="Liberation Sans, sans-serif">0.1</text><text x="121.7" y="496.4" font-size="17" text-anchor="middle" textLength="24.6" lengthAdjust="spacingAndGlyphs" font-family="Liberation Sans, sans-serif">0.3</text><text x="177.7" y="496.4" font-size="17" text-anchor="middle" textLength="24.6" lengthAdjust="spacingAndGlyphs" font-family="Liberation Sans, sans-serif">0.5</text><text x="233.6" y="496.4" font-size="17" text-anchor="middle" textLength="24.6" lengthAdjust="spacingAndGlyphs" font-family="Liberation Sans, sans-serif">0.7</text><text x="289.6" y="496.4" font-size="17" text-anchor="middle" textLength="24.6" lengthAdjust="spacingAndGlyphs" font-family="Liberation Sans, sans-serif">0.9</text><text x="85.1" y="520.1" font-size="19" textLength="186.4" lengthAdjust="spacingAndGlyphs" font-family="Liberation Sans, sans-serif">FR (spikes/time step)</text><text transform="translate(21.6 388.9) rotate(-90)" font-size="24" font-style="italic" text-anchor="middle" font-family="Liberation Serif, serif">τ</text><rect x="309.2" y="295.5" width="9.8" height="36.8" fill="url(#cb)"/><text x="322.4" y="300.3" font-size="9.4" textLength="14.6" lengthAdjust="spacingAndGlyphs" font-family="Liberation Sans, sans-serif">6.3</text><text x="322.4" y="336.9" font-size="9.4" textLength="17.6" lengthAdjust="spacingAndGlyphs" font-family="Liberation Sans, sans-serif">-5.7</text><text transform="translate(315.8 387.5) rotate(-90)" font-size="10.6" textLength="51.5" lengthAdjust="spacingAndGlyphs" font-family="Liberation Sans, sans-serif">Reciprocity</text>
<g shape-rendering="crispEdges"><rect x="417.50" y="295.40" width="28.40" height="30.27" fill="rgb(255,230,230)"/><rect x="445.60" y="295.40" width="28.40" height="30.27" fill="rgb(255,191,191)"/><rect x="473.70" y="295.40" width="28.40" height="30.27" fill="rgb(255,166,166)"/><rect x="501.80" y="295.40" width="28.40" height="30.27" fill="rgb(255,178,178)"/><rect x="529.90" y="295.40" width="28.40" height="30.27" fill="rgb(255,128,128)"/><rect x="558.00" y="295.40" width="28.40" height="30.27" fill="rgb(255,173,173)"/><rect x="586.10" y="295.40" width="28.40" height="30.27" fill="rgb(255,173,173)"/><rect x="614.20" y="295.40" width="28.40" height="30.27" fill="rgb(255,209,209)"/><rect x="642.30" y="295.40" width="28.40" height="30.27" fill="rgb(230,230,255)"/><rect x="417.50" y="325.37" width="28.40" height="30.27" fill="rgb(255,235,235)"/><rect x="445.60" y="325.37" width="28.40" height="30.27" fill="rgb(255,204,204)"/><rect x="473.70" y="325.37" width="28.40" height="30.27" fill="rgb(255,199,199)"/><rect x="501.80" y="325.37" width="28.40" height="30.27" fill="rgb(255,184,184)"/><rect x="529.90" y="325.37" width="28.40" height="30.27" fill="rgb(255,184,184)"/><rect x="558.00" y="325.37" width="28.40" height="30.27" fill="rgb(255,204,204)"/><rect x="586.10" y="325.37" width="28.40" height="30.27" fill="rgb(255,204,204)"/><rect x="614.20" y="325.37" width="28.40" height="30.27" fill="rgb(255,235,235)"/><rect x="642.30" y="325.37" width="28.40" height="30.27" fill="rgb(237,237,255)"/><rect x="417.50" y="355.33" width="28.40" height="30.27" fill="rgb(255,252,252)"/><rect x="445.60" y="355.33" width="28.40" height="30.27" fill="rgb(255,235,235)"/><rect x="473.70" y="355.33" width="28.40" height="30.27" fill="rgb(255,230,230)"/><rect x="501.80" y="355.33" width="28.40" height="30.27" fill="rgb(255,230,230)"/><rect x="529.90" y="355.33" width="28.40" height="30.27" fill="rgb(255,224,224)"/><rect x="558.00" y="355.33" width="28.40" height="30.27" fill="rgb(255,222,222)"/><rect x="586.10" y="355.33" width="28.40" height="30.27" fill="rgb(255,242,242)"/><rect x="614.20" y="355.33" width="28.40" height="30.27" fill="rgb(242,242,255)"/><rect x="642.30" y="355.33" width="28.40" height="30.27" fill="rgb(252,252,255)"/><rect x="417.50" y="385.30" width="28.40" height="30.27" fill="rgb(255,252,252)"/><rect x="445.60" y="385.30" width="28.40" height="30.27" fill="rgb(255,224,224)"/><rect x="473.70" y="385.30" width="28.40" height="30.27" fill="rgb(255,245,245)"/><rect x="501.80" y="385.30" width="28.40" height="30.27" fill="rgb(255,255,255)"/><rect x="529.90" y="385.30" width="28.40" height="30.27" fill="rgb(255,242,242)"/><rect x="558.00" y="385.30" width="28.40" height="30.27" fill="rgb(255,255,255)"/><rect x="586.10" y="385.30" width="28.40" height="30.27" fill="rgb(255,255,255)"/><rect x="614.20" y="385.30" width="28.40" height="30.27" fill="rgb(255,252,252)"/><rect x="642.30" y="385.30" width="28.40" height="30.27" fill="rgb(240,240,255)"/><rect x="417.50" y="415.27" width="28.40" height="30.27" fill="rgb(255,242,242)"/><rect x="445.60" y="415.27" width="28.40" height="30.27" fill="rgb(255,232,232)"/><rect x="473.70" y="415.27" width="28.40" height="30.27" fill="rgb(255,247,247)"/><rect x="501.80" y="415.27" width="28.40" height="30.27" fill="rgb(255,245,245)"/><rect x="529.90" y="415.27" width="28.40" height="30.27" fill="rgb(255,247,247)"/><rect x="558.00" y="415.27" width="28.40" height="30.27" fill="rgb(255,255,255)"/><rect x="586.10" y="415.27" width="28.40" height="30.27" fill="rgb(245,245,255)"/><rect x="614.20" y="415.27" width="28.40" height="30.27" fill="rgb(255,255,255)"/><rect x="642.30" y="415.27" width="28.40" height="30.27" fill="rgb(252,252,255)"/><rect x="417.50" y="445.23" width="28.40" height="30.27" fill="rgb(250,250,255)"/><rect x="445.60" y="445.23" width="28.40" height="30.27" fill="rgb(255,242,242)"/><rect x="473.70" y="445.23" width="28.40" height="30.27" fill="rgb(255,247,247)"/><rect x="501.80" y="445.23" width="28.40" height="30.27" fill="rgb(250,250,255)"/><rect x="529.90" y="445.23" width="28.40" height="30.27" fill="rgb(247,247,255)"/><rect x="558.00" y="445.23" width="28.40" height="30.27" fill="rgb(255,255,255)"/><rect x="586.10" y="445.23" width="28.40" height="30.27" fill="rgb(250,250,255)"/><rect x="614.20" y="445.23" width="28.40" height="30.27" fill="rgb(255,255,255)"/><rect x="642.30" y="445.23" width="28.40" height="30.27" fill="rgb(240,240,255)"/></g><path d="M417.5 295.4 V475.2 H670.4 M417.5 295.4 H670.4" fill="none" stroke="#8c8c94" stroke-width="0.8"/><text x="408.9" y="315.9" font-size="17.6" text-anchor="end" font-family="Liberation Sans, sans-serif">7</text><text x="408.9" y="345.8" font-size="17.6" text-anchor="end" font-family="Liberation Sans, sans-serif">6</text><text x="408.9" y="375.8" font-size="17.6" text-anchor="end" font-family="Liberation Sans, sans-serif">5</text><text x="408.9" y="405.8" font-size="17.6" text-anchor="end" font-family="Liberation Sans, sans-serif">4</text><text x="408.9" y="435.8" font-size="17.6" text-anchor="end" font-family="Liberation Sans, sans-serif">3</text><text x="408.9" y="465.7" font-size="17.6" text-anchor="end" font-family="Liberation Sans, sans-serif">2</text><text x="431.9" y="496.4" font-size="17" text-anchor="middle" textLength="24.6" lengthAdjust="spacingAndGlyphs" font-family="Liberation Sans, sans-serif">0.1</text><text x="488.1" y="496.4" font-size="17" text-anchor="middle" textLength="24.6" lengthAdjust="spacingAndGlyphs" font-family="Liberation Sans, sans-serif">0.3</text><text x="544.2" y="496.4" font-size="17" text-anchor="middle" textLength="24.6" lengthAdjust="spacingAndGlyphs" font-family="Liberation Sans, sans-serif">0.5</text><text x="600.4" y="496.4" font-size="17" text-anchor="middle" textLength="24.6" lengthAdjust="spacingAndGlyphs" font-family="Liberation Sans, sans-serif">0.7</text><text x="656.6" y="496.4" font-size="17" text-anchor="middle" textLength="24.6" lengthAdjust="spacingAndGlyphs" font-family="Liberation Sans, sans-serif">0.9</text><text x="451.2" y="520.1" font-size="19" textLength="186.4" lengthAdjust="spacingAndGlyphs" font-family="Liberation Sans, sans-serif">FR (spikes/time step)</text><text transform="translate(387.7 388.8) rotate(-90)" font-size="24" font-style="italic" text-anchor="middle" font-family="Liberation Serif, serif">τ</text><rect x="677.3" y="295.4" width="9.8" height="36.8" fill="url(#cb)"/><text x="690.5" y="300.2" font-size="9.4" textLength="14.6" lengthAdjust="spacingAndGlyphs" font-family="Liberation Sans, sans-serif">6.3</text><text x="690.5" y="336.8" font-size="9.4" textLength="17.6" lengthAdjust="spacingAndGlyphs" font-family="Liberation Sans, sans-serif">-5.7</text><text transform="translate(683.9 387.4) rotate(-90)" font-size="10.6" textLength="51.5" lengthAdjust="spacingAndGlyphs" font-family="Liberation Sans, sans-serif">Reciprocity</text>
<g shape-rendering="crispEdges"><rect x="51.40" y="596.60" width="28.29" height="30.13" fill="rgb(255,31,31)"/><rect x="79.39" y="596.60" width="28.29" height="30.13" fill="rgb(255,97,97)"/><rect x="107.38" y="596.60" width="28.29" height="30.13" fill="rgb(255,178,178)"/><rect x="135.37" y="596.60" width="28.29" height="30.13" fill="rgb(255,235,235)"/><rect x="163.36" y="596.60" width="28.29" height="30.13" fill="rgb(255,247,247)"/><rect x="191.34" y="596.60" width="28.29" height="30.13" fill="rgb(255,224,224)"/><rect x="219.33" y="596.60" width="28.29" height="30.13" fill="rgb(255,148,148)"/><rect x="247.32" y="596.60" width="28.29" height="30.13" fill="rgb(255,0,0)"/><rect x="275.31" y="596.60" width="28.29" height="30.13" fill="rgb(255,0,0)"/><rect x="51.40" y="626.43" width="28.29" height="30.13" fill="rgb(255,115,115)"/><rect x="79.39" y="626.43" width="28.29" height="30.13" fill="rgb(255,166,166)"/><rect x="107.38" y="626.43" width="28.29" height="30.13" fill="rgb(255,224,224)"/><rect x="135.37" y="626.43" width="28.29" height="30.13" fill="rgb(237,237,255)"/><rect x="163.36" y="626.43" width="28.29" height="30.13" fill="rgb(247,247,255)"/><rect x="191.34" y="626.43" width="28.29" height="30.13" fill="rgb(255,235,235)"/><rect x="219.33" y="626.43" width="28.29" height="30.13" fill="rgb(255,166,166)"/><rect x="247.32" y="626.43" width="28.29" height="30.13" fill="rgb(255,102,102)"/><rect x="275.31" y="626.43" width="28.29" height="30.13" fill="rgb(255,38,38)"/><rect x="51.40" y="656.27" width="28.29" height="30.13" fill="rgb(255,128,128)"/><rect x="79.39" y="656.27" width="28.29" height="30.13" fill="rgb(255,184,184)"/><rect x="107.38" y="656.27" width="28.29" height="30.13" fill="rgb(255,240,240)"/><rect x="135.37" y="656.27" width="28.29" height="30.13" fill="rgb(255,247,247)"/><rect x="163.36" y="656.27" width="28.29" height="30.13" fill="rgb(242,242,255)"/><rect x="191.34" y="656.27" width="28.29" height="30.13" fill="rgb(255,252,252)"/><rect x="219.33" y="656.27" width="28.29" height="30.13" fill="rgb(255,217,217)"/><rect x="247.32" y="656.27" width="28.29" height="30.13" fill="rgb(255,166,166)"/><rect x="275.31" y="656.27" width="28.29" height="30.13" fill="rgb(255,89,89)"/><rect x="51.40" y="686.10" width="28.29" height="30.13" fill="rgb(255,51,51)"/><rect x="79.39" y="686.10" width="28.29" height="30.13" fill="rgb(255,166,166)"/><rect x="107.38" y="686.10" width="28.29" height="30.13" fill="rgb(255,240,240)"/><rect x="135.37" y="686.10" width="28.29" height="30.13" fill="rgb(255,255,255)"/><rect x="163.36" y="686.10" width="28.29" height="30.13" fill="rgb(245,245,255)"/><rect x="191.34" y="686.10" width="28.29" height="30.13" fill="rgb(252,252,255)"/><rect x="219.33" y="686.10" width="28.29" height="30.13" fill="rgb(255,230,230)"/><rect x="247.32" y="686.10" width="28.29" height="30.13" fill="rgb(255,184,184)"/><rect x="275.31" y="686.10" width="28.29" height="30.13" fill="rgb(255,166,166)"/><rect x="51.40" y="715.93" width="28.29" height="30.13" fill="rgb(255,148,148)"/><rect x="79.39" y="715.93" width="28.29" height="30.13" fill="rgb(255,158,158)"/><rect x="107.38" y="715.93" width="28.29" height="30.13" fill="rgb(255,204,204)"/><rect x="135.37" y="715.93" width="28.29" height="30.13" fill="rgb(255,240,240)"/><rect x="163.36" y="715.93" width="28.29" height="30.13" fill="rgb(255,255,255)"/><rect x="191.34" y="715.93" width="28.29" height="30.13" fill="rgb(255,255,255)"/><rect x="219.33" y="715.93" width="28.29" height="30.13" fill="rgb(255,250,250)"/><rect x="247.32" y="715.93" width="28.29" height="30.13" fill="rgb(255,240,240)"/><rect x="275.31" y="715.93" width="28.29" height="30.13" fill="rgb(255,230,230)"/><rect x="51.40" y="745.77" width="28.29" height="30.13" fill="rgb(255,217,217)"/><rect x="79.39" y="745.77" width="28.29" height="30.13" fill="rgb(255,204,204)"/><rect x="107.38" y="745.77" width="28.29" height="30.13" fill="rgb(255,204,204)"/><rect x="135.37" y="745.77" width="28.29" height="30.13" fill="rgb(255,230,230)"/><rect x="163.36" y="745.77" width="28.29" height="30.13" fill="rgb(255,252,252)"/><rect x="191.34" y="745.77" width="28.29" height="30.13" fill="rgb(237,237,255)"/><rect x="219.33" y="745.77" width="28.29" height="30.13" fill="rgb(230,230,255)"/><rect x="247.32" y="745.77" width="28.29" height="30.13" fill="rgb(255,255,255)"/><rect x="275.31" y="745.77" width="28.29" height="30.13" fill="rgb(255,247,247)"/></g><path d="M51.4 596.6 V775.6 H303.3 M51.4 596.6 H303.3" fill="none" stroke="#8c8c94" stroke-width="0.8"/><text x="42.8" y="617.0" font-size="17.6" text-anchor="end" font-family="Liberation Sans, sans-serif">7</text><text x="42.8" y="646.9" font-size="17.6" text-anchor="end" font-family="Liberation Sans, sans-serif">6</text><text x="42.8" y="676.7" font-size="17.6" text-anchor="end" font-family="Liberation Sans, sans-serif">5</text><text x="42.8" y="706.5" font-size="17.6" text-anchor="end" font-family="Liberation Sans, sans-serif">4</text><text x="42.8" y="736.4" font-size="17.6" text-anchor="end" font-family="Liberation Sans, sans-serif">3</text><text x="42.8" y="766.2" font-size="17.6" text-anchor="end" font-family="Liberation Sans, sans-serif">2</text><text x="65.7" y="796.8" font-size="17" text-anchor="middle" textLength="24.6" lengthAdjust="spacingAndGlyphs" font-family="Liberation Sans, sans-serif">0.1</text><text x="121.7" y="796.8" font-size="17" text-anchor="middle" textLength="24.6" lengthAdjust="spacingAndGlyphs" font-family="Liberation Sans, sans-serif">0.3</text><text x="177.7" y="796.8" font-size="17" text-anchor="middle" textLength="24.6" lengthAdjust="spacingAndGlyphs" font-family="Liberation Sans, sans-serif">0.5</text><text x="233.6" y="796.8" font-size="17" text-anchor="middle" textLength="24.6" lengthAdjust="spacingAndGlyphs" font-family="Liberation Sans, sans-serif">0.7</text><text x="289.6" y="796.8" font-size="17" text-anchor="middle" textLength="24.6" lengthAdjust="spacingAndGlyphs" font-family="Liberation Sans, sans-serif">0.9</text><text x="85.1" y="820.5" font-size="19" textLength="186.4" lengthAdjust="spacingAndGlyphs" font-family="Liberation Sans, sans-serif">FR (spikes/time step)</text><text transform="translate(21.6 689.6) rotate(-90)" font-size="24" font-style="italic" text-anchor="middle" font-family="Liberation Serif, serif">τ</text><rect x="309.2" y="596.6" width="9.8" height="36.8" fill="url(#cb)"/><text x="322.4" y="601.4" font-size="9.4" textLength="14.6" lengthAdjust="spacingAndGlyphs" font-family="Liberation Sans, sans-serif">6.3</text><text x="322.4" y="638.0" font-size="9.4" textLength="17.6" lengthAdjust="spacingAndGlyphs" font-family="Liberation Sans, sans-serif">-5.7</text><text transform="translate(315.8 688.6) rotate(-90)" font-size="10.6" textLength="51.5" lengthAdjust="spacingAndGlyphs" font-family="Liberation Sans, sans-serif">Reciprocity</text>
<g shape-rendering="crispEdges"><rect x="417.50" y="596.30" width="28.40" height="30.32" fill="rgb(255,252,252)"/><rect x="445.60" y="596.30" width="28.40" height="30.32" fill="rgb(115,115,255)"/><rect x="473.70" y="596.30" width="28.40" height="30.32" fill="rgb(89,89,255)"/><rect x="501.80" y="596.30" width="28.40" height="30.32" fill="rgb(0,0,255)"/><rect x="529.90" y="596.30" width="28.40" height="30.32" fill="rgb(56,56,255)"/><rect x="558.00" y="596.30" width="28.40" height="30.32" fill="rgb(20,20,255)"/><rect x="586.10" y="596.30" width="28.40" height="30.32" fill="rgb(128,128,255)"/><rect x="614.20" y="596.30" width="28.40" height="30.32" fill="rgb(173,173,255)"/><rect x="642.30" y="596.30" width="28.40" height="30.32" fill="rgb(255,153,153)"/><rect x="417.50" y="626.32" width="28.40" height="30.32" fill="rgb(255,224,224)"/><rect x="445.60" y="626.32" width="28.40" height="30.32" fill="rgb(171,171,255)"/><rect x="473.70" y="626.32" width="28.40" height="30.32" fill="rgb(128,128,255)"/><rect x="501.80" y="626.32" width="28.40" height="30.32" fill="rgb(107,107,255)"/><rect x="529.90" y="626.32" width="28.40" height="30.32" fill="rgb(107,107,255)"/><rect x="558.00" y="626.32" width="28.40" height="30.32" fill="rgb(115,115,255)"/><rect x="586.10" y="626.32" width="28.40" height="30.32" fill="rgb(173,173,255)"/><rect x="614.20" y="626.32" width="28.40" height="30.32" fill="rgb(224,224,255)"/><rect x="642.30" y="626.32" width="28.40" height="30.32" fill="rgb(255,178,178)"/><rect x="417.50" y="656.33" width="28.40" height="30.32" fill="rgb(255,204,204)"/><rect x="445.60" y="656.33" width="28.40" height="30.32" fill="rgb(250,250,255)"/><rect x="473.70" y="656.33" width="28.40" height="30.32" fill="rgb(178,178,255)"/><rect x="501.80" y="656.33" width="28.40" height="30.32" fill="rgb(158,158,255)"/><rect x="529.90" y="656.33" width="28.40" height="30.32" fill="rgb(153,153,255)"/><rect x="558.00" y="656.33" width="28.40" height="30.32" fill="rgb(128,128,255)"/><rect x="586.10" y="656.33" width="28.40" height="30.32" fill="rgb(178,178,255)"/><rect x="614.20" y="656.33" width="28.40" height="30.32" fill="rgb(255,242,242)"/><rect x="642.30" y="656.33" width="28.40" height="30.32" fill="rgb(255,153,153)"/><rect x="417.50" y="686.35" width="28.40" height="30.32" fill="rgb(255,158,158)"/><rect x="445.60" y="686.35" width="28.40" height="30.32" fill="rgb(255,209,209)"/><rect x="473.70" y="686.35" width="28.40" height="30.32" fill="rgb(247,247,255)"/><rect x="501.80" y="686.35" width="28.40" height="30.32" fill="rgb(219,219,255)"/><rect x="529.90" y="686.35" width="28.40" height="30.32" fill="rgb(219,219,255)"/><rect x="558.00" y="686.35" width="28.40" height="30.32" fill="rgb(219,219,255)"/><rect x="586.10" y="686.35" width="28.40" height="30.32" fill="rgb(245,245,255)"/><rect x="614.20" y="686.35" width="28.40" height="30.32" fill="rgb(255,235,235)"/><rect x="642.30" y="686.35" width="28.40" height="30.32" fill="rgb(255,209,209)"/><rect x="417.50" y="716.37" width="28.40" height="30.32" fill="rgb(255,166,166)"/><rect x="445.60" y="716.37" width="28.40" height="30.32" fill="rgb(255,178,178)"/><rect x="473.70" y="716.37" width="28.40" height="30.32" fill="rgb(255,204,204)"/><rect x="501.80" y="716.37" width="28.40" height="30.32" fill="rgb(255,204,204)"/><rect x="529.90" y="716.37" width="28.40" height="30.32" fill="rgb(255,242,242)"/><rect x="558.00" y="716.37" width="28.40" height="30.32" fill="rgb(255,240,240)"/><rect x="586.10" y="716.37" width="28.40" height="30.32" fill="rgb(255,240,240)"/><rect x="614.20" y="716.37" width="28.40" height="30.32" fill="rgb(255,235,235)"/><rect x="642.30" y="716.37" width="28.40" height="30.32" fill="rgb(255,242,242)"/><rect x="417.50" y="746.38" width="28.40" height="30.32" fill="rgb(255,219,219)"/><rect x="445.60" y="746.38" width="28.40" height="30.32" fill="rgb(255,230,230)"/><rect x="473.70" y="746.38" width="28.40" height="30.32" fill="rgb(255,224,224)"/><rect x="501.80" y="746.38" width="28.40" height="30.32" fill="rgb(255,240,240)"/><rect x="529.90" y="746.38" width="28.40" height="30.32" fill="rgb(255,240,240)"/><rect x="558.00" y="746.38" width="28.40" height="30.32" fill="rgb(255,240,240)"/><rect x="586.10" y="746.38" width="28.40" height="30.32" fill="rgb(255,237,237)"/><rect x="614.20" y="746.38" width="28.40" height="30.32" fill="rgb(255,224,224)"/><rect x="642.30" y="746.38" width="28.40" height="30.32" fill="rgb(255,224,224)"/></g><path d="M417.5 596.3 V776.4 H670.4 M417.5 596.3 H670.4" fill="none" stroke="#8c8c94" stroke-width="0.8"/><text x="408.9" y="616.8" font-size="17.6" text-anchor="end" font-family="Liberation Sans, sans-serif">7</text><text x="408.9" y="646.8" font-size="17.6" text-anchor="end" font-family="Liberation Sans, sans-serif">6</text><text x="408.9" y="676.8" font-size="17.6" text-anchor="end" font-family="Liberation Sans, sans-serif">5</text><text x="408.9" y="706.9" font-size="17.6" text-anchor="end" font-family="Liberation Sans, sans-serif">4</text><text x="408.9" y="736.9" font-size="17.6" text-anchor="end" font-family="Liberation Sans, sans-serif">3</text><text x="408.9" y="766.9" font-size="17.6" text-anchor="end" font-family="Liberation Sans, sans-serif">2</text><text x="431.9" y="797.6" font-size="17" text-anchor="middle" textLength="24.6" lengthAdjust="spacingAndGlyphs" font-family="Liberation Sans, sans-serif">0.1</text><text x="488.1" y="797.6" font-size="17" text-anchor="middle" textLength="24.6" lengthAdjust="spacingAndGlyphs" font-family="Liberation Sans, sans-serif">0.3</text><text x="544.2" y="797.6" font-size="17" text-anchor="middle" textLength="24.6" lengthAdjust="spacingAndGlyphs" font-family="Liberation Sans, sans-serif">0.5</text><text x="600.4" y="797.6" font-size="17" text-anchor="middle" textLength="24.6" lengthAdjust="spacingAndGlyphs" font-family="Liberation Sans, sans-serif">0.7</text><text x="656.6" y="797.6" font-size="17" text-anchor="middle" textLength="24.6" lengthAdjust="spacingAndGlyphs" font-family="Liberation Sans, sans-serif">0.9</text><text x="451.2" y="821.3" font-size="19" textLength="186.4" lengthAdjust="spacingAndGlyphs" font-family="Liberation Sans, sans-serif">FR (spikes/time step)</text><text transform="translate(387.7 689.8) rotate(-90)" font-size="24" font-style="italic" text-anchor="middle" font-family="Liberation Serif, serif">τ</text><rect x="677.3" y="596.3" width="9.8" height="36.8" fill="url(#cb)"/><text x="690.5" y="601.1" font-size="9.4" textLength="14.6" lengthAdjust="spacingAndGlyphs" font-family="Liberation Sans, sans-serif">6.3</text><text x="690.5" y="637.7" font-size="9.4" textLength="17.6" lengthAdjust="spacingAndGlyphs" font-family="Liberation Sans, sans-serif">-5.7</text><text transform="translate(683.9 688.3) rotate(-90)" font-size="10.6" textLength="51.5" lengthAdjust="spacingAndGlyphs" font-family="Liberation Sans, sans-serif">Reciprocity</text>
<text x="-1.5" y="24.5" font-size="34" font-family="Liberation Sans, sans-serif">a</text>
<text x="365.2" y="24.5" font-size="34" font-family="Liberation Sans, sans-serif">b</text>
<text x="3.2" y="287.0" font-size="34" font-family="Liberation Sans, sans-serif">c</text>
<text x="369.6" y="287.0" font-size="34" font-family="Liberation Sans, sans-serif">d</text>
<text x="3.2" y="582.9" font-size="34" font-family="Liberation Sans, sans-serif">e</text>
<text x="369.5" y="582.7" font-size="34" font-family="Liberation Sans, sans-serif">f</text>
<text x="117.3" y="24.6" font-size="20" textLength="54.4" lengthAdjust="spacingAndGlyphs" font-family="Liberation Sans, sans-serif">s-task</text>
<text x="179.1" y="22.0" font-size="16.6" font-family="Liberation Serif, serif">(</text>
<text transform="translate(183.0 24.9) scale(1.12 0.8)" font-size="26" font-family="Liberation Serif, serif">τ</text>
<path d="M200.6 17.1h17.4M200.6 21.5h17.4" stroke="#111" stroke-width="1"/>
<text x="224.4" y="24.8" font-size="18.6" font-family="Liberation Serif, serif">7</text>
<text x="234.6" y="22.0" font-size="16.6" font-family="Liberation Serif, serif">)</text>
<text x="422.6" y="24.7" font-size="20.6" textLength="235.8" lengthAdjust="spacingAndGlyphs" font-family="Liberation Sans, sans-serif">Random transition graph</text>
<text x="130.9" y="286.3" font-size="18" font-style="italic" textLength="35.6" lengthAdjust="spacingAndGlyphs" font-family="Liberation Sans, sans-serif">T+F</text><text transform="translate(190.1 287.0) skewX(-13) scale(1.08 1)" font-size="19" font-style="italic" font-family="Liberation Serif, serif">f</text><text x="197.1" y="291.1" font-size="12" font-style="italic" font-family="Liberation Serif, serif">r</text><path d="M209.4 280.5h13.6M209.4 284.7h13.6" stroke="#111" stroke-width="0.95"/><text x="230.3" y="286.7" font-size="17.5" font-family="Liberation Serif, serif">1</text>
<text x="508.6" y="286.5" font-size="18" font-style="italic" textLength="12.4" lengthAdjust="spacingAndGlyphs" font-family="Liberation Sans, sans-serif">F</text><text transform="translate(544.0 287.2) skewX(-13) scale(1.08 1)" font-size="19" font-style="italic" font-family="Liberation Serif, serif">f</text><text x="551.0" y="291.3" font-size="12" font-style="italic" font-family="Liberation Serif, serif">r</text><path d="M560.8 280.7h13.6M560.8 284.9h13.6" stroke="#111" stroke-width="0.95"/><text x="581.4" y="286.9" font-size="17.5" font-family="Liberation Serif, serif">1</text>
<text x="130.9" y="586.3" font-size="18" font-style="italic" textLength="35.4" lengthAdjust="spacingAndGlyphs" font-family="Liberation Sans, sans-serif">T+F</text><text transform="translate(190.4 587.0) skewX(-13) scale(1.08 1)" font-size="19" font-style="italic" font-family="Liberation Serif, serif">f</text><text x="197.4" y="591.1" font-size="12" font-style="italic" font-family="Liberation Serif, serif">r</text><path d="M206.4 580.5h13.6M206.4 584.7h13.6" stroke="#111" stroke-width="0.95"/><text x="228.0" y="586.7" font-size="17.5" font-family="Liberation Serif, serif">4</text>
<text x="507.0" y="586.3" font-size="18" font-style="italic" textLength="12.4" lengthAdjust="spacingAndGlyphs" font-family="Liberation Sans, sans-serif">F</text><text transform="translate(542.4 587.0) skewX(-13) scale(1.08 1)" font-size="19" font-style="italic" font-family="Liberation Serif, serif">f</text><text x="549.4" y="591.1" font-size="12" font-style="italic" font-family="Liberation Serif, serif">r</text><path d="M558.5 580.5h13.6M558.5 584.7h13.6" stroke="#111" stroke-width="0.95"/><text x="579.6" y="586.7" font-size="17.5" font-family="Liberation Serif, serif">4</text>
</svg>
</body></html>
